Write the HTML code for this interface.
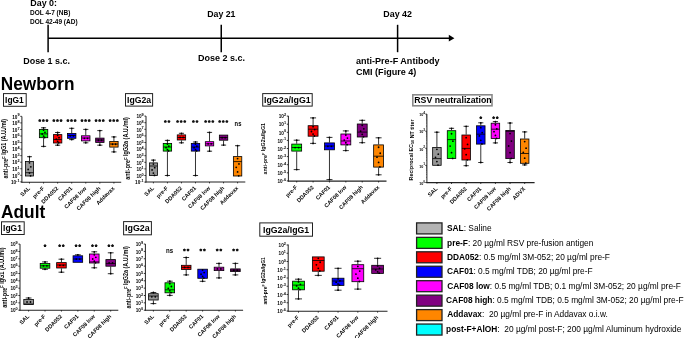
<!DOCTYPE html>
<html><head><meta charset="utf-8"><style>
html,body{margin:0;padding:0;background:#fff;width:685px;height:338px;overflow:hidden}
svg{display:block;will-change:transform;font-family:"Liberation Sans",sans-serif}
</style></head><body>
<svg width="685" height="338" viewBox="0 0 685 338">
<rect width="685" height="338" fill="#fff"/>
<line x1="48.00" y1="38.20" x2="450.00" y2="38.20" stroke="#000" stroke-width="1.60"/>
<polygon points="448.8,34.8 454.4,38.15 448.8,41.5" fill="#000"/>
<line x1="48.10" y1="24.80" x2="48.10" y2="52.20" stroke="#000" stroke-width="1.50"/>
<line x1="221.25" y1="24.80" x2="221.25" y2="52.20" stroke="#000" stroke-width="1.50"/>
<line x1="397.60" y1="24.80" x2="397.60" y2="52.20" stroke="#000" stroke-width="1.50"/>
<text x="30.30" y="6.40" font-size="9.20" font-weight="bold" textLength="26.70" lengthAdjust="spacingAndGlyphs" text-anchor="start" fill="#000">Day 0:</text>
<text x="30.00" y="14.80" font-size="6.50" font-weight="bold" textLength="40.30" lengthAdjust="spacingAndGlyphs" text-anchor="start" fill="#000">DOL 4-7 (NB)</text>
<text x="30.00" y="23.90" font-size="6.50" font-weight="bold" textLength="47.60" lengthAdjust="spacingAndGlyphs" text-anchor="start" fill="#000">DOL 42-49 (AD)</text>
<text x="23.20" y="64.20" font-size="9.00" font-weight="bold" textLength="46.80" lengthAdjust="spacingAndGlyphs" text-anchor="start" fill="#000">Dose 1 s.c.</text>
<text x="207.20" y="17.00" font-size="8.90" font-weight="bold" textLength="28.30" lengthAdjust="spacingAndGlyphs" text-anchor="start" fill="#000">Day 21</text>
<text x="198.00" y="61.20" font-size="9.00" font-weight="bold" textLength="47.00" lengthAdjust="spacingAndGlyphs" text-anchor="start" fill="#000">Dose 2 s.c.</text>
<text x="383.30" y="17.00" font-size="8.90" font-weight="bold" textLength="28.70" lengthAdjust="spacingAndGlyphs" text-anchor="start" fill="#000">Day 42</text>
<text x="356.00" y="64.30" font-size="9.00" font-weight="bold" textLength="83.50" lengthAdjust="spacingAndGlyphs" text-anchor="start" fill="#000">anti-Pre-F Antibody</text>
<text x="356.00" y="75.00" font-size="9.00" font-weight="bold" textLength="60.30" lengthAdjust="spacingAndGlyphs" text-anchor="start" fill="#000">CMI (Figure 4)</text>
<text x="0.80" y="89.90" font-size="18.00" font-weight="bold" textLength="73.70" lengthAdjust="spacingAndGlyphs" text-anchor="start" fill="#000">Newborn</text>
<text x="1.00" y="218.10" font-size="18.20" font-weight="bold" textLength="44.20" lengthAdjust="spacingAndGlyphs" text-anchor="start" fill="#000">Adult</text>
<rect x="3.50" y="93.60" width="22.70" height="12.70" fill="#fff" stroke="#222" stroke-width="1.00"/>
<text x="5.10" y="103.00" font-size="9.20" font-weight="bold" textLength="18.70" lengthAdjust="spacingAndGlyphs" text-anchor="start" fill="#000">IgG1</text>
<rect x="125.50" y="93.60" width="27.10" height="12.50" fill="#fff" stroke="#222" stroke-width="1.00"/>
<text x="127.00" y="103.00" font-size="9.20" font-weight="bold" textLength="24.10" lengthAdjust="spacingAndGlyphs" text-anchor="start" fill="#000">IgG2a</text>
<rect x="262.70" y="93.60" width="49.50" height="12.50" fill="#fff" stroke="#222" stroke-width="1.00"/>
<text x="264.00" y="103.30" font-size="9.20" font-weight="bold" textLength="46.70" lengthAdjust="spacingAndGlyphs" text-anchor="start" fill="#000">IgG2a/IgG1</text>
<rect x="412.80" y="94.80" width="79.20" height="11.00" fill="#fff" stroke="#8a8a8a" stroke-width="1.60"/>
<text x="414.30" y="102.80" font-size="9.60" font-weight="bold" textLength="77.30" lengthAdjust="spacingAndGlyphs" text-anchor="start" fill="#000">RSV neutralization</text>
<rect x="1.50" y="221.80" width="22.70" height="12.70" fill="#fff" stroke="#222" stroke-width="1.00"/>
<text x="3.10" y="231.20" font-size="9.20" font-weight="bold" textLength="18.80" lengthAdjust="spacingAndGlyphs" text-anchor="start" fill="#000">IgG1</text>
<rect x="123.60" y="221.60" width="27.80" height="13.20" fill="#fff" stroke="#222" stroke-width="1.00"/>
<text x="125.00" y="231.40" font-size="9.20" font-weight="bold" textLength="24.70" lengthAdjust="spacingAndGlyphs" text-anchor="start" fill="#000">IgG2a</text>
<rect x="259.80" y="222.90" width="52.70" height="13.30" fill="#fff" stroke="#222" stroke-width="1.00"/>
<text x="263.00" y="232.90" font-size="9.20" font-weight="bold" textLength="46.20" lengthAdjust="spacingAndGlyphs" text-anchor="start" fill="#000">IgG2a/IgG1</text>
<line x1="20.30" y1="181.85" x2="21.90" y2="181.85" stroke="#000" stroke-width="0.80"/>
<text x="19.50" y="181.90" font-size="3.82" font-weight="bold" text-anchor="end" fill="#000">-1</text>
<text x="16.21" y="184.05" font-size="5.30" font-weight="bold" text-anchor="end" textLength="5.20" lengthAdjust="spacingAndGlyphs" fill="#000">10</text>
<line x1="20.30" y1="175.30" x2="21.90" y2="175.30" stroke="#000" stroke-width="0.80"/>
<text x="19.50" y="175.35" font-size="3.82" font-weight="bold" text-anchor="end" fill="#000">0</text>
<text x="17.48" y="177.50" font-size="5.30" font-weight="bold" text-anchor="end" textLength="5.20" lengthAdjust="spacingAndGlyphs" fill="#000">10</text>
<line x1="20.30" y1="168.75" x2="21.90" y2="168.75" stroke="#000" stroke-width="0.80"/>
<text x="19.50" y="168.80" font-size="3.82" font-weight="bold" text-anchor="end" fill="#000">1</text>
<text x="17.48" y="170.95" font-size="5.30" font-weight="bold" text-anchor="end" textLength="5.20" lengthAdjust="spacingAndGlyphs" fill="#000">10</text>
<line x1="20.30" y1="162.20" x2="21.90" y2="162.20" stroke="#000" stroke-width="0.80"/>
<text x="19.50" y="162.25" font-size="3.82" font-weight="bold" text-anchor="end" fill="#000">2</text>
<text x="17.48" y="164.40" font-size="5.30" font-weight="bold" text-anchor="end" textLength="5.20" lengthAdjust="spacingAndGlyphs" fill="#000">10</text>
<line x1="20.30" y1="155.65" x2="21.90" y2="155.65" stroke="#000" stroke-width="0.80"/>
<text x="19.50" y="155.70" font-size="3.82" font-weight="bold" text-anchor="end" fill="#000">3</text>
<text x="17.48" y="157.85" font-size="5.30" font-weight="bold" text-anchor="end" textLength="5.20" lengthAdjust="spacingAndGlyphs" fill="#000">10</text>
<line x1="20.30" y1="149.10" x2="21.90" y2="149.10" stroke="#000" stroke-width="0.80"/>
<text x="19.50" y="149.15" font-size="3.82" font-weight="bold" text-anchor="end" fill="#000">4</text>
<text x="17.48" y="151.30" font-size="5.30" font-weight="bold" text-anchor="end" textLength="5.20" lengthAdjust="spacingAndGlyphs" fill="#000">10</text>
<line x1="20.30" y1="142.55" x2="21.90" y2="142.55" stroke="#000" stroke-width="0.80"/>
<text x="19.50" y="142.60" font-size="3.82" font-weight="bold" text-anchor="end" fill="#000">5</text>
<text x="17.48" y="144.75" font-size="5.30" font-weight="bold" text-anchor="end" textLength="5.20" lengthAdjust="spacingAndGlyphs" fill="#000">10</text>
<line x1="20.30" y1="136.00" x2="21.90" y2="136.00" stroke="#000" stroke-width="0.80"/>
<text x="19.50" y="136.05" font-size="3.82" font-weight="bold" text-anchor="end" fill="#000">6</text>
<text x="17.48" y="138.20" font-size="5.30" font-weight="bold" text-anchor="end" textLength="5.20" lengthAdjust="spacingAndGlyphs" fill="#000">10</text>
<line x1="20.30" y1="129.45" x2="21.90" y2="129.45" stroke="#000" stroke-width="0.80"/>
<text x="19.50" y="129.50" font-size="3.82" font-weight="bold" text-anchor="end" fill="#000">7</text>
<text x="17.48" y="131.65" font-size="5.30" font-weight="bold" text-anchor="end" textLength="5.20" lengthAdjust="spacingAndGlyphs" fill="#000">10</text>
<line x1="20.30" y1="122.90" x2="21.90" y2="122.90" stroke="#000" stroke-width="0.80"/>
<text x="19.50" y="122.95" font-size="3.82" font-weight="bold" text-anchor="end" fill="#000">8</text>
<text x="17.48" y="125.10" font-size="5.30" font-weight="bold" text-anchor="end" textLength="5.20" lengthAdjust="spacingAndGlyphs" fill="#000">10</text>
<line x1="20.30" y1="116.35" x2="21.90" y2="116.35" stroke="#000" stroke-width="0.80"/>
<text x="19.50" y="116.40" font-size="3.82" font-weight="bold" text-anchor="end" fill="#000">9</text>
<text x="17.48" y="118.55" font-size="5.30" font-weight="bold" text-anchor="end" textLength="5.20" lengthAdjust="spacingAndGlyphs" fill="#000">10</text>
<line x1="21.90" y1="116.50" x2="21.90" y2="182.70" stroke="#222" stroke-width="1.00"/>
<line x1="21.40" y1="182.20" x2="121.20" y2="182.20" stroke="#222" stroke-width="1.10"/>
<line x1="29.50" y1="182.20" x2="29.50" y2="183.60" stroke="#000" stroke-width="0.70"/>
<line x1="43.57" y1="182.20" x2="43.57" y2="183.60" stroke="#000" stroke-width="0.70"/>
<line x1="57.64" y1="182.20" x2="57.64" y2="183.60" stroke="#000" stroke-width="0.70"/>
<line x1="71.71" y1="182.20" x2="71.71" y2="183.60" stroke="#000" stroke-width="0.70"/>
<line x1="85.78" y1="182.20" x2="85.78" y2="183.60" stroke="#000" stroke-width="0.70"/>
<line x1="99.85" y1="182.20" x2="99.85" y2="183.60" stroke="#000" stroke-width="0.70"/>
<line x1="113.92" y1="182.20" x2="113.92" y2="183.60" stroke="#000" stroke-width="0.70"/>
<text transform="translate(30.50 188.80) rotate(-45)" x="0" y="0" font-size="5.60" font-weight="bold" text-anchor="end" fill="#000">SAL</text>
<text transform="translate(44.57 188.80) rotate(-45)" x="0" y="0" font-size="5.60" font-weight="bold" text-anchor="end" fill="#000">pre-F</text>
<text transform="translate(58.64 188.80) rotate(-45)" x="0" y="0" font-size="5.60" font-weight="bold" text-anchor="end" fill="#000">DDA052</text>
<text transform="translate(72.71 188.80) rotate(-45)" x="0" y="0" font-size="5.60" font-weight="bold" text-anchor="end" fill="#000">CAF01</text>
<text transform="translate(86.78 188.80) rotate(-45)" x="0" y="0" font-size="5.60" font-weight="bold" text-anchor="end" fill="#000">CAF08 low</text>
<text transform="translate(100.85 188.80) rotate(-45)" x="0" y="0" font-size="5.60" font-weight="bold" text-anchor="end" fill="#000">CAF08 high</text>
<text transform="translate(114.92 188.80) rotate(-45)" x="0" y="0" font-size="5.60" font-weight="bold" text-anchor="end" fill="#000">Addavax</text>
<text transform="translate(8.34 148.75) rotate(-90)" x="0" y="0" font-size="6.50" font-weight="bold" text-anchor="middle" textLength="59.50" lengthAdjust="spacingAndGlyphs" fill="#000"><tspan>anti-pre</tspan><tspan dy="-2.27" font-size="4.55">F</tspan><tspan dy="2.27"></tspan><tspan> IgG1 (A.U./ml)</tspan></text>
<line x1="29.50" y1="156.70" x2="29.50" y2="161.00" stroke="#000" stroke-width="0.80"/>
<line x1="27.04" y1="156.70" x2="31.96" y2="156.70" stroke="#000" stroke-width="0.80"/>
<rect x="25.50" y="161.40" width="8.00" height="14.60" fill="#969696" stroke="#000" stroke-width="0.80"/>
<line x1="25.50" y1="172.70" x2="33.50" y2="172.70" stroke="#000" stroke-width="0.80"/>
<circle cx="29.50" cy="162.85" r="0.9" fill="#000"/>
<circle cx="30.82" cy="166.85" r="0.9" fill="#000"/>
<circle cx="28.18" cy="169.47" r="0.9" fill="#000"/>
<circle cx="29.50" cy="173.01" r="0.9" fill="#000"/>
<circle cx="30.56" cy="175.80" r="0.9" fill="#000"/>
<circle cx="29.50" cy="156.70" r="0.9" fill="#000"/>
<line x1="43.57" y1="127.80" x2="43.57" y2="129.00" stroke="#000" stroke-width="0.80"/>
<line x1="40.99" y1="127.80" x2="46.15" y2="127.80" stroke="#000" stroke-width="0.80"/>
<line x1="43.57" y1="138.10" x2="43.57" y2="146.40" stroke="#000" stroke-width="0.80"/>
<line x1="40.99" y1="146.40" x2="46.15" y2="146.40" stroke="#000" stroke-width="0.80"/>
<rect x="39.37" y="129.40" width="8.40" height="8.30" fill="#00ff00" stroke="#000" stroke-width="0.80"/>
<line x1="39.37" y1="133.90" x2="47.77" y2="133.90" stroke="#000" stroke-width="0.80"/>
<circle cx="43.57" cy="130.09" r="0.9" fill="#000"/>
<circle cx="44.95" cy="132.46" r="0.9" fill="#000"/>
<circle cx="42.19" cy="134.00" r="0.9" fill="#000"/>
<circle cx="43.57" cy="136.10" r="0.9" fill="#000"/>
<circle cx="44.67" cy="137.50" r="0.9" fill="#000"/>
<circle cx="43.57" cy="127.80" r="0.9" fill="#000"/>
<circle cx="43.57" cy="146.40" r="0.9" fill="#000"/>
<line x1="57.64" y1="132.50" x2="57.64" y2="134.20" stroke="#000" stroke-width="0.80"/>
<line x1="55.06" y1="132.50" x2="60.22" y2="132.50" stroke="#000" stroke-width="0.80"/>
<line x1="57.64" y1="143.40" x2="57.64" y2="145.20" stroke="#000" stroke-width="0.80"/>
<line x1="55.06" y1="145.20" x2="60.22" y2="145.20" stroke="#000" stroke-width="0.80"/>
<rect x="53.44" y="134.60" width="8.40" height="8.40" fill="#ff0000" stroke="#000" stroke-width="0.80"/>
<line x1="53.44" y1="139.50" x2="61.84" y2="139.50" stroke="#000" stroke-width="0.80"/>
<circle cx="57.64" cy="135.30" r="0.9" fill="#000"/>
<circle cx="59.02" cy="137.70" r="0.9" fill="#000"/>
<circle cx="56.26" cy="139.26" r="0.9" fill="#000"/>
<circle cx="57.64" cy="141.38" r="0.9" fill="#000"/>
<circle cx="58.74" cy="142.80" r="0.9" fill="#000"/>
<circle cx="57.64" cy="132.50" r="0.9" fill="#000"/>
<circle cx="57.64" cy="145.20" r="0.9" fill="#000"/>
<line x1="71.71" y1="128.30" x2="71.71" y2="133.00" stroke="#000" stroke-width="0.80"/>
<line x1="69.13" y1="128.30" x2="74.29" y2="128.30" stroke="#000" stroke-width="0.80"/>
<line x1="71.71" y1="138.70" x2="71.71" y2="139.60" stroke="#000" stroke-width="0.80"/>
<line x1="69.13" y1="139.60" x2="74.29" y2="139.60" stroke="#000" stroke-width="0.80"/>
<rect x="67.51" y="133.40" width="8.40" height="4.90" fill="#0000ff" stroke="#000" stroke-width="0.80"/>
<line x1="67.51" y1="135.50" x2="75.91" y2="135.50" stroke="#000" stroke-width="0.80"/>
<circle cx="70.33" cy="135.85" r="0.9" fill="#000"/>
<circle cx="73.37" cy="135.85" r="0.9" fill="#000"/>
<circle cx="71.71" cy="128.30" r="0.9" fill="#000"/>
<circle cx="71.71" cy="139.60" r="0.9" fill="#000"/>
<line x1="85.78" y1="129.40" x2="85.78" y2="135.40" stroke="#000" stroke-width="0.80"/>
<line x1="83.20" y1="129.40" x2="88.36" y2="129.40" stroke="#000" stroke-width="0.80"/>
<line x1="85.78" y1="141.30" x2="85.78" y2="142.80" stroke="#000" stroke-width="0.80"/>
<line x1="83.20" y1="142.80" x2="88.36" y2="142.80" stroke="#000" stroke-width="0.80"/>
<rect x="81.58" y="135.80" width="8.40" height="5.10" fill="#ff00ff" stroke="#000" stroke-width="0.80"/>
<line x1="81.58" y1="138.00" x2="89.98" y2="138.00" stroke="#000" stroke-width="0.80"/>
<circle cx="84.40" cy="138.35" r="0.9" fill="#000"/>
<circle cx="87.44" cy="138.35" r="0.9" fill="#000"/>
<circle cx="85.78" cy="129.40" r="0.9" fill="#000"/>
<circle cx="85.78" cy="142.80" r="0.9" fill="#000"/>
<line x1="99.85" y1="130.60" x2="99.85" y2="137.70" stroke="#000" stroke-width="0.80"/>
<line x1="97.27" y1="130.60" x2="102.43" y2="130.60" stroke="#000" stroke-width="0.80"/>
<line x1="99.85" y1="142.80" x2="99.85" y2="145.20" stroke="#000" stroke-width="0.80"/>
<line x1="97.27" y1="145.20" x2="102.43" y2="145.20" stroke="#000" stroke-width="0.80"/>
<rect x="95.65" y="138.10" width="8.40" height="4.30" fill="#800080" stroke="#000" stroke-width="0.80"/>
<line x1="95.65" y1="140.00" x2="104.05" y2="140.00" stroke="#000" stroke-width="0.80"/>
<circle cx="98.47" cy="140.25" r="0.9" fill="#000"/>
<circle cx="101.51" cy="140.25" r="0.9" fill="#000"/>
<circle cx="99.85" cy="130.60" r="0.9" fill="#000"/>
<circle cx="99.85" cy="145.20" r="0.9" fill="#000"/>
<line x1="113.92" y1="136.90" x2="113.92" y2="141.00" stroke="#000" stroke-width="0.80"/>
<line x1="111.34" y1="136.90" x2="116.50" y2="136.90" stroke="#000" stroke-width="0.80"/>
<line x1="113.92" y1="147.50" x2="113.92" y2="151.90" stroke="#000" stroke-width="0.80"/>
<line x1="111.34" y1="151.90" x2="116.50" y2="151.90" stroke="#000" stroke-width="0.80"/>
<rect x="109.72" y="141.40" width="8.40" height="5.70" fill="#ff8600" stroke="#000" stroke-width="0.80"/>
<line x1="109.72" y1="144.00" x2="118.12" y2="144.00" stroke="#000" stroke-width="0.80"/>
<circle cx="112.54" cy="144.25" r="0.9" fill="#000"/>
<circle cx="115.58" cy="144.25" r="0.9" fill="#000"/>
<circle cx="113.92" cy="136.90" r="0.9" fill="#000"/>
<circle cx="113.92" cy="151.90" r="0.9" fill="#000"/>
<polygon points="39.77,118.98 40.50,119.60 41.31,120.10 40.95,120.98 40.72,121.91 39.77,121.84 38.82,121.91 38.59,120.98 38.23,120.10 39.04,119.60" fill="#111"/>
<polygon points="43.37,118.98 44.10,119.60 44.91,120.10 44.55,120.98 44.32,121.91 43.37,121.84 42.42,121.91 42.19,120.98 41.83,120.10 42.64,119.60" fill="#111"/>
<polygon points="46.97,118.98 47.70,119.60 48.51,120.10 48.15,120.98 47.92,121.91 46.97,121.84 46.02,121.91 45.79,120.98 45.43,120.10 46.24,119.60" fill="#111"/>
<polygon points="53.84,118.98 54.57,119.60 55.38,120.10 55.02,120.98 54.79,121.91 53.84,121.84 52.89,121.91 52.66,120.98 52.30,120.10 53.11,119.60" fill="#111"/>
<polygon points="57.44,118.98 58.17,119.60 58.98,120.10 58.62,120.98 58.39,121.91 57.44,121.84 56.49,121.91 56.26,120.98 55.90,120.10 56.71,119.60" fill="#111"/>
<polygon points="61.04,118.98 61.77,119.60 62.58,120.10 62.22,120.98 61.99,121.91 61.04,121.84 60.09,121.91 59.86,120.98 59.50,120.10 60.31,119.60" fill="#111"/>
<polygon points="67.91,118.98 68.64,119.60 69.45,120.10 69.09,120.98 68.86,121.91 67.91,121.84 66.96,121.91 66.73,120.98 66.37,120.10 67.18,119.60" fill="#111"/>
<polygon points="71.51,118.98 72.24,119.60 73.05,120.10 72.69,120.98 72.46,121.91 71.51,121.84 70.56,121.91 70.33,120.98 69.97,120.10 70.78,119.60" fill="#111"/>
<polygon points="75.11,118.98 75.84,119.60 76.65,120.10 76.29,120.98 76.06,121.91 75.11,121.84 74.16,121.91 73.93,120.98 73.57,120.10 74.38,119.60" fill="#111"/>
<polygon points="81.98,118.98 82.71,119.60 83.52,120.10 83.16,120.98 82.93,121.91 81.98,121.84 81.03,121.91 80.80,120.98 80.44,120.10 81.25,119.60" fill="#111"/>
<polygon points="85.58,118.98 86.31,119.60 87.12,120.10 86.76,120.98 86.53,121.91 85.58,121.84 84.63,121.91 84.40,120.98 84.04,120.10 84.85,119.60" fill="#111"/>
<polygon points="89.18,118.98 89.91,119.60 90.72,120.10 90.36,120.98 90.13,121.91 89.18,121.84 88.23,121.91 88.00,120.98 87.64,120.10 88.45,119.60" fill="#111"/>
<polygon points="96.05,118.98 96.78,119.60 97.59,120.10 97.23,120.98 97.00,121.91 96.05,121.84 95.10,121.91 94.87,120.98 94.51,120.10 95.32,119.60" fill="#111"/>
<polygon points="99.65,118.98 100.38,119.60 101.19,120.10 100.83,120.98 100.60,121.91 99.65,121.84 98.70,121.91 98.47,120.98 98.11,120.10 98.92,119.60" fill="#111"/>
<polygon points="103.25,118.98 103.98,119.60 104.79,120.10 104.43,120.98 104.20,121.91 103.25,121.84 102.30,121.91 102.07,120.98 101.71,120.10 102.52,119.60" fill="#111"/>
<polygon points="110.12,118.98 110.85,119.60 111.66,120.10 111.30,120.98 111.07,121.91 110.12,121.84 109.17,121.91 108.94,120.98 108.58,120.10 109.39,119.60" fill="#111"/>
<polygon points="113.72,118.98 114.45,119.60 115.26,120.10 114.90,120.98 114.67,121.91 113.72,121.84 112.77,121.91 112.54,120.98 112.18,120.10 112.99,119.60" fill="#111"/>
<polygon points="117.32,118.98 118.05,119.60 118.86,120.10 118.50,120.98 118.27,121.91 117.32,121.84 116.37,121.91 116.14,120.98 115.78,120.10 116.59,119.60" fill="#111"/>
<line x1="144.40" y1="182.10" x2="146.00" y2="182.10" stroke="#000" stroke-width="0.80"/>
<text x="143.60" y="182.15" font-size="3.82" font-weight="bold" text-anchor="end" fill="#000">-1</text>
<text x="140.31" y="184.30" font-size="5.30" font-weight="bold" text-anchor="end" textLength="5.20" lengthAdjust="spacingAndGlyphs" fill="#000">10</text>
<line x1="144.40" y1="175.50" x2="146.00" y2="175.50" stroke="#000" stroke-width="0.80"/>
<text x="143.60" y="175.55" font-size="3.82" font-weight="bold" text-anchor="end" fill="#000">0</text>
<text x="141.58" y="177.70" font-size="5.30" font-weight="bold" text-anchor="end" textLength="5.20" lengthAdjust="spacingAndGlyphs" fill="#000">10</text>
<line x1="144.40" y1="168.90" x2="146.00" y2="168.90" stroke="#000" stroke-width="0.80"/>
<text x="143.60" y="168.95" font-size="3.82" font-weight="bold" text-anchor="end" fill="#000">1</text>
<text x="141.58" y="171.10" font-size="5.30" font-weight="bold" text-anchor="end" textLength="5.20" lengthAdjust="spacingAndGlyphs" fill="#000">10</text>
<line x1="144.40" y1="162.30" x2="146.00" y2="162.30" stroke="#000" stroke-width="0.80"/>
<text x="143.60" y="162.35" font-size="3.82" font-weight="bold" text-anchor="end" fill="#000">2</text>
<text x="141.58" y="164.50" font-size="5.30" font-weight="bold" text-anchor="end" textLength="5.20" lengthAdjust="spacingAndGlyphs" fill="#000">10</text>
<line x1="144.40" y1="155.70" x2="146.00" y2="155.70" stroke="#000" stroke-width="0.80"/>
<text x="143.60" y="155.75" font-size="3.82" font-weight="bold" text-anchor="end" fill="#000">3</text>
<text x="141.58" y="157.90" font-size="5.30" font-weight="bold" text-anchor="end" textLength="5.20" lengthAdjust="spacingAndGlyphs" fill="#000">10</text>
<line x1="144.40" y1="149.10" x2="146.00" y2="149.10" stroke="#000" stroke-width="0.80"/>
<text x="143.60" y="149.15" font-size="3.82" font-weight="bold" text-anchor="end" fill="#000">4</text>
<text x="141.58" y="151.30" font-size="5.30" font-weight="bold" text-anchor="end" textLength="5.20" lengthAdjust="spacingAndGlyphs" fill="#000">10</text>
<line x1="144.40" y1="142.50" x2="146.00" y2="142.50" stroke="#000" stroke-width="0.80"/>
<text x="143.60" y="142.55" font-size="3.82" font-weight="bold" text-anchor="end" fill="#000">5</text>
<text x="141.58" y="144.70" font-size="5.30" font-weight="bold" text-anchor="end" textLength="5.20" lengthAdjust="spacingAndGlyphs" fill="#000">10</text>
<line x1="144.40" y1="135.90" x2="146.00" y2="135.90" stroke="#000" stroke-width="0.80"/>
<text x="143.60" y="135.95" font-size="3.82" font-weight="bold" text-anchor="end" fill="#000">6</text>
<text x="141.58" y="138.10" font-size="5.30" font-weight="bold" text-anchor="end" textLength="5.20" lengthAdjust="spacingAndGlyphs" fill="#000">10</text>
<line x1="144.40" y1="129.30" x2="146.00" y2="129.30" stroke="#000" stroke-width="0.80"/>
<text x="143.60" y="129.35" font-size="3.82" font-weight="bold" text-anchor="end" fill="#000">7</text>
<text x="141.58" y="131.50" font-size="5.30" font-weight="bold" text-anchor="end" textLength="5.20" lengthAdjust="spacingAndGlyphs" fill="#000">10</text>
<line x1="144.40" y1="122.70" x2="146.00" y2="122.70" stroke="#000" stroke-width="0.80"/>
<text x="143.60" y="122.75" font-size="3.82" font-weight="bold" text-anchor="end" fill="#000">8</text>
<text x="141.58" y="124.90" font-size="5.30" font-weight="bold" text-anchor="end" textLength="5.20" lengthAdjust="spacingAndGlyphs" fill="#000">10</text>
<line x1="144.40" y1="116.10" x2="146.00" y2="116.10" stroke="#000" stroke-width="0.80"/>
<text x="143.60" y="116.15" font-size="3.82" font-weight="bold" text-anchor="end" fill="#000">9</text>
<text x="141.58" y="118.30" font-size="5.30" font-weight="bold" text-anchor="end" textLength="5.20" lengthAdjust="spacingAndGlyphs" fill="#000">10</text>
<line x1="146.00" y1="116.10" x2="146.00" y2="182.50" stroke="#222" stroke-width="1.00"/>
<line x1="145.50" y1="182.00" x2="245.30" y2="182.00" stroke="#222" stroke-width="1.10"/>
<line x1="153.40" y1="182.00" x2="153.40" y2="183.40" stroke="#000" stroke-width="0.70"/>
<line x1="167.43" y1="182.00" x2="167.43" y2="183.40" stroke="#000" stroke-width="0.70"/>
<line x1="181.46" y1="182.00" x2="181.46" y2="183.40" stroke="#000" stroke-width="0.70"/>
<line x1="195.49" y1="182.00" x2="195.49" y2="183.40" stroke="#000" stroke-width="0.70"/>
<line x1="209.52" y1="182.00" x2="209.52" y2="183.40" stroke="#000" stroke-width="0.70"/>
<line x1="223.55" y1="182.00" x2="223.55" y2="183.40" stroke="#000" stroke-width="0.70"/>
<line x1="237.58" y1="182.00" x2="237.58" y2="183.40" stroke="#000" stroke-width="0.70"/>
<text transform="translate(154.40 188.60) rotate(-45)" x="0" y="0" font-size="5.60" font-weight="bold" text-anchor="end" fill="#000">SAL</text>
<text transform="translate(168.43 188.60) rotate(-45)" x="0" y="0" font-size="5.60" font-weight="bold" text-anchor="end" fill="#000">pre-F</text>
<text transform="translate(182.46 188.60) rotate(-45)" x="0" y="0" font-size="5.60" font-weight="bold" text-anchor="end" fill="#000">DDA052</text>
<text transform="translate(196.49 188.60) rotate(-45)" x="0" y="0" font-size="5.60" font-weight="bold" text-anchor="end" fill="#000">CAF01</text>
<text transform="translate(210.52 188.60) rotate(-45)" x="0" y="0" font-size="5.60" font-weight="bold" text-anchor="end" fill="#000">CAF08 low</text>
<text transform="translate(224.55 188.60) rotate(-45)" x="0" y="0" font-size="5.60" font-weight="bold" text-anchor="end" fill="#000">CAF08 high</text>
<text transform="translate(238.58 188.60) rotate(-45)" x="0" y="0" font-size="5.60" font-weight="bold" text-anchor="end" fill="#000">Addavax</text>
<text transform="translate(130.34 148.45) rotate(-90)" x="0" y="0" font-size="6.50" font-weight="bold" text-anchor="middle" textLength="62.70" lengthAdjust="spacingAndGlyphs" fill="#000"><tspan>anti-pre</tspan><tspan dy="-2.27" font-size="4.55">F</tspan><tspan dy="2.27"></tspan><tspan> IgG2a (A.U./ml)</tspan></text>
<line x1="153.40" y1="160.10" x2="153.40" y2="162.50" stroke="#000" stroke-width="0.80"/>
<line x1="150.94" y1="160.10" x2="155.86" y2="160.10" stroke="#000" stroke-width="0.80"/>
<rect x="149.40" y="162.90" width="8.00" height="12.70" fill="#969696" stroke="#000" stroke-width="0.80"/>
<line x1="149.40" y1="166.00" x2="157.40" y2="166.00" stroke="#000" stroke-width="0.80"/>
<circle cx="153.40" cy="164.12" r="0.9" fill="#000"/>
<circle cx="154.72" cy="167.63" r="0.9" fill="#000"/>
<circle cx="152.08" cy="169.93" r="0.9" fill="#000"/>
<circle cx="153.40" cy="173.03" r="0.9" fill="#000"/>
<circle cx="154.46" cy="175.40" r="0.9" fill="#000"/>
<circle cx="153.40" cy="160.10" r="0.9" fill="#000"/>
<line x1="167.43" y1="140.40" x2="167.43" y2="143.00" stroke="#000" stroke-width="0.80"/>
<line x1="164.85" y1="140.40" x2="170.01" y2="140.40" stroke="#000" stroke-width="0.80"/>
<line x1="167.43" y1="151.50" x2="167.43" y2="175.50" stroke="#000" stroke-width="0.80"/>
<line x1="164.85" y1="175.50" x2="170.01" y2="175.50" stroke="#000" stroke-width="0.80"/>
<rect x="163.23" y="143.40" width="8.40" height="7.70" fill="#00ff00" stroke="#000" stroke-width="0.80"/>
<line x1="163.23" y1="147.00" x2="171.63" y2="147.00" stroke="#000" stroke-width="0.80"/>
<circle cx="167.43" cy="144.02" r="0.9" fill="#000"/>
<circle cx="168.81" cy="146.23" r="0.9" fill="#000"/>
<circle cx="166.05" cy="147.68" r="0.9" fill="#000"/>
<circle cx="167.43" cy="149.63" r="0.9" fill="#000"/>
<circle cx="168.53" cy="150.90" r="0.9" fill="#000"/>
<circle cx="167.43" cy="140.40" r="0.9" fill="#000"/>
<circle cx="167.43" cy="175.50" r="0.9" fill="#000"/>
<line x1="181.46" y1="133.30" x2="181.46" y2="134.50" stroke="#000" stroke-width="0.80"/>
<line x1="178.88" y1="133.30" x2="184.04" y2="133.30" stroke="#000" stroke-width="0.80"/>
<line x1="181.46" y1="140.40" x2="181.46" y2="142.80" stroke="#000" stroke-width="0.80"/>
<line x1="178.88" y1="142.80" x2="184.04" y2="142.80" stroke="#000" stroke-width="0.80"/>
<rect x="177.26" y="134.90" width="8.40" height="5.10" fill="#ff0000" stroke="#000" stroke-width="0.80"/>
<line x1="177.26" y1="137.50" x2="185.66" y2="137.50" stroke="#000" stroke-width="0.80"/>
<circle cx="180.08" cy="137.45" r="0.9" fill="#000"/>
<circle cx="183.12" cy="137.45" r="0.9" fill="#000"/>
<circle cx="181.46" cy="133.30" r="0.9" fill="#000"/>
<circle cx="181.46" cy="142.80" r="0.9" fill="#000"/>
<line x1="195.49" y1="142.00" x2="195.49" y2="143.00" stroke="#000" stroke-width="0.80"/>
<line x1="192.91" y1="142.00" x2="198.07" y2="142.00" stroke="#000" stroke-width="0.80"/>
<line x1="195.49" y1="151.50" x2="195.49" y2="175.50" stroke="#000" stroke-width="0.80"/>
<line x1="192.91" y1="175.50" x2="198.07" y2="175.50" stroke="#000" stroke-width="0.80"/>
<rect x="191.29" y="143.40" width="8.40" height="7.70" fill="#0000ff" stroke="#000" stroke-width="0.80"/>
<line x1="191.29" y1="147.00" x2="199.69" y2="147.00" stroke="#000" stroke-width="0.80"/>
<circle cx="195.49" cy="144.02" r="0.9" fill="#000"/>
<circle cx="196.87" cy="146.23" r="0.9" fill="#000"/>
<circle cx="194.11" cy="147.68" r="0.9" fill="#000"/>
<circle cx="195.49" cy="149.63" r="0.9" fill="#000"/>
<circle cx="196.59" cy="150.90" r="0.9" fill="#000"/>
<circle cx="195.49" cy="142.00" r="0.9" fill="#000"/>
<circle cx="195.49" cy="175.50" r="0.9" fill="#000"/>
<line x1="209.52" y1="132.40" x2="209.52" y2="141.30" stroke="#000" stroke-width="0.80"/>
<line x1="206.94" y1="132.40" x2="212.10" y2="132.40" stroke="#000" stroke-width="0.80"/>
<line x1="209.52" y1="146.30" x2="209.52" y2="151.20" stroke="#000" stroke-width="0.80"/>
<line x1="206.94" y1="151.20" x2="212.10" y2="151.20" stroke="#000" stroke-width="0.80"/>
<rect x="205.32" y="141.70" width="8.40" height="4.20" fill="#ff00ff" stroke="#000" stroke-width="0.80"/>
<line x1="205.32" y1="143.80" x2="213.72" y2="143.80" stroke="#000" stroke-width="0.80"/>
<circle cx="208.14" cy="143.80" r="0.9" fill="#000"/>
<circle cx="211.18" cy="143.80" r="0.9" fill="#000"/>
<circle cx="209.52" cy="132.40" r="0.9" fill="#000"/>
<circle cx="209.52" cy="151.20" r="0.9" fill="#000"/>
<line x1="223.55" y1="140.60" x2="223.55" y2="145.10" stroke="#000" stroke-width="0.80"/>
<line x1="220.97" y1="145.10" x2="226.13" y2="145.10" stroke="#000" stroke-width="0.80"/>
<rect x="219.35" y="135.10" width="8.40" height="5.10" fill="#800080" stroke="#000" stroke-width="0.80"/>
<line x1="219.35" y1="137.50" x2="227.75" y2="137.50" stroke="#000" stroke-width="0.80"/>
<circle cx="222.17" cy="137.65" r="0.9" fill="#000"/>
<circle cx="225.21" cy="137.65" r="0.9" fill="#000"/>
<circle cx="223.55" cy="145.10" r="0.9" fill="#000"/>
<line x1="237.58" y1="145.70" x2="237.58" y2="156.20" stroke="#000" stroke-width="0.80"/>
<line x1="235.00" y1="145.70" x2="240.16" y2="145.70" stroke="#000" stroke-width="0.80"/>
<rect x="233.38" y="156.60" width="8.40" height="19.40" fill="#ff8600" stroke="#000" stroke-width="0.80"/>
<line x1="233.38" y1="161.60" x2="241.78" y2="161.60" stroke="#000" stroke-width="0.80"/>
<circle cx="237.58" cy="158.62" r="0.9" fill="#000"/>
<circle cx="238.96" cy="163.88" r="0.9" fill="#000"/>
<circle cx="236.20" cy="167.31" r="0.9" fill="#000"/>
<circle cx="237.58" cy="171.96" r="0.9" fill="#000"/>
<circle cx="238.68" cy="175.80" r="0.9" fill="#000"/>
<circle cx="237.58" cy="145.70" r="0.9" fill="#000"/>
<polygon points="165.33,119.88 166.06,120.50 166.87,121.00 166.51,121.88 166.28,122.81 165.33,122.74 164.38,122.81 164.15,121.88 163.79,121.00 164.60,120.50" fill="#111"/>
<polygon points="168.93,119.88 169.66,120.50 170.47,121.00 170.11,121.88 169.88,122.81 168.93,122.74 167.98,122.81 167.75,121.88 167.39,121.00 168.20,120.50" fill="#111"/>
<polygon points="177.56,119.88 178.29,120.50 179.10,121.00 178.74,121.88 178.51,122.81 177.56,122.74 176.61,122.81 176.38,121.88 176.02,121.00 176.83,120.50" fill="#111"/>
<polygon points="181.16,119.88 181.89,120.50 182.70,121.00 182.34,121.88 182.11,122.81 181.16,122.74 180.21,122.81 179.98,121.88 179.62,121.00 180.43,120.50" fill="#111"/>
<polygon points="184.76,119.88 185.49,120.50 186.30,121.00 185.94,121.88 185.71,122.81 184.76,122.74 183.81,122.81 183.58,121.88 183.22,121.00 184.03,120.50" fill="#111"/>
<polygon points="193.39,119.88 194.12,120.50 194.93,121.00 194.57,121.88 194.34,122.81 193.39,122.74 192.44,122.81 192.21,121.88 191.85,121.00 192.66,120.50" fill="#111"/>
<polygon points="196.99,119.88 197.72,120.50 198.53,121.00 198.17,121.88 197.94,122.81 196.99,122.74 196.04,122.81 195.81,121.88 195.45,121.00 196.26,120.50" fill="#111"/>
<polygon points="205.62,119.88 206.35,120.50 207.16,121.00 206.80,121.88 206.57,122.81 205.62,122.74 204.67,122.81 204.44,121.88 204.08,121.00 204.89,120.50" fill="#111"/>
<polygon points="209.22,119.88 209.95,120.50 210.76,121.00 210.40,121.88 210.17,122.81 209.22,122.74 208.27,122.81 208.04,121.88 207.68,121.00 208.49,120.50" fill="#111"/>
<polygon points="212.82,119.88 213.55,120.50 214.36,121.00 214.00,121.88 213.77,122.81 212.82,122.74 211.87,122.81 211.64,121.88 211.28,121.00 212.09,120.50" fill="#111"/>
<polygon points="219.65,119.88 220.38,120.50 221.19,121.00 220.83,121.88 220.60,122.81 219.65,122.74 218.70,122.81 218.47,121.88 218.11,121.00 218.92,120.50" fill="#111"/>
<polygon points="223.25,119.88 223.98,120.50 224.79,121.00 224.43,121.88 224.20,122.81 223.25,122.74 222.30,122.81 222.07,121.88 221.71,121.00 222.52,120.50" fill="#111"/>
<polygon points="226.85,119.88 227.58,120.50 228.39,121.00 228.03,121.88 227.80,122.81 226.85,122.74 225.90,122.81 225.67,121.88 225.31,121.00 226.12,120.50" fill="#111"/>
<text x="234.60" y="125.60" font-size="6.60" font-weight="bold" textLength="6.80" lengthAdjust="spacingAndGlyphs" text-anchor="start" fill="#000">ns</text>
<line x1="286.80" y1="180.90" x2="288.40" y2="180.90" stroke="#000" stroke-width="0.80"/>
<text x="286.00" y="180.95" font-size="3.82" font-weight="bold" text-anchor="end" fill="#000">-6</text>
<text x="282.71" y="183.10" font-size="5.30" font-weight="bold" text-anchor="end" textLength="5.20" lengthAdjust="spacingAndGlyphs" fill="#000">10</text>
<line x1="286.80" y1="172.80" x2="288.40" y2="172.80" stroke="#000" stroke-width="0.80"/>
<text x="286.00" y="172.85" font-size="3.82" font-weight="bold" text-anchor="end" fill="#000">-5</text>
<text x="282.71" y="175.00" font-size="5.30" font-weight="bold" text-anchor="end" textLength="5.20" lengthAdjust="spacingAndGlyphs" fill="#000">10</text>
<line x1="286.80" y1="164.70" x2="288.40" y2="164.70" stroke="#000" stroke-width="0.80"/>
<text x="286.00" y="164.75" font-size="3.82" font-weight="bold" text-anchor="end" fill="#000">-4</text>
<text x="282.71" y="166.90" font-size="5.30" font-weight="bold" text-anchor="end" textLength="5.20" lengthAdjust="spacingAndGlyphs" fill="#000">10</text>
<line x1="286.80" y1="156.60" x2="288.40" y2="156.60" stroke="#000" stroke-width="0.80"/>
<text x="286.00" y="156.65" font-size="3.82" font-weight="bold" text-anchor="end" fill="#000">-3</text>
<text x="282.71" y="158.80" font-size="5.30" font-weight="bold" text-anchor="end" textLength="5.20" lengthAdjust="spacingAndGlyphs" fill="#000">10</text>
<line x1="286.80" y1="148.50" x2="288.40" y2="148.50" stroke="#000" stroke-width="0.80"/>
<text x="286.00" y="148.55" font-size="3.82" font-weight="bold" text-anchor="end" fill="#000">-2</text>
<text x="282.71" y="150.70" font-size="5.30" font-weight="bold" text-anchor="end" textLength="5.20" lengthAdjust="spacingAndGlyphs" fill="#000">10</text>
<line x1="286.80" y1="140.40" x2="288.40" y2="140.40" stroke="#000" stroke-width="0.80"/>
<text x="286.00" y="140.45" font-size="3.82" font-weight="bold" text-anchor="end" fill="#000">-1</text>
<text x="282.71" y="142.60" font-size="5.30" font-weight="bold" text-anchor="end" textLength="5.20" lengthAdjust="spacingAndGlyphs" fill="#000">10</text>
<line x1="286.80" y1="132.30" x2="288.40" y2="132.30" stroke="#000" stroke-width="0.80"/>
<text x="286.00" y="132.35" font-size="3.82" font-weight="bold" text-anchor="end" fill="#000">0</text>
<text x="283.98" y="134.50" font-size="5.30" font-weight="bold" text-anchor="end" textLength="5.20" lengthAdjust="spacingAndGlyphs" fill="#000">10</text>
<line x1="286.80" y1="124.20" x2="288.40" y2="124.20" stroke="#000" stroke-width="0.80"/>
<text x="286.00" y="124.25" font-size="3.82" font-weight="bold" text-anchor="end" fill="#000">1</text>
<text x="283.98" y="126.40" font-size="5.30" font-weight="bold" text-anchor="end" textLength="5.20" lengthAdjust="spacingAndGlyphs" fill="#000">10</text>
<line x1="286.80" y1="116.10" x2="288.40" y2="116.10" stroke="#000" stroke-width="0.80"/>
<text x="286.00" y="116.15" font-size="3.82" font-weight="bold" text-anchor="end" fill="#000">2</text>
<text x="283.98" y="118.30" font-size="5.30" font-weight="bold" text-anchor="end" textLength="5.20" lengthAdjust="spacingAndGlyphs" fill="#000">10</text>
<line x1="288.40" y1="115.90" x2="288.40" y2="181.60" stroke="#222" stroke-width="1.00"/>
<line x1="287.90" y1="181.10" x2="386.50" y2="181.10" stroke="#222" stroke-width="1.10"/>
<line x1="296.70" y1="181.10" x2="296.70" y2="182.50" stroke="#000" stroke-width="0.70"/>
<line x1="313.08" y1="181.10" x2="313.08" y2="182.50" stroke="#000" stroke-width="0.70"/>
<line x1="329.46" y1="181.10" x2="329.46" y2="182.50" stroke="#000" stroke-width="0.70"/>
<line x1="345.84" y1="181.10" x2="345.84" y2="182.50" stroke="#000" stroke-width="0.70"/>
<line x1="362.22" y1="181.10" x2="362.22" y2="182.50" stroke="#000" stroke-width="0.70"/>
<line x1="378.60" y1="181.10" x2="378.60" y2="182.50" stroke="#000" stroke-width="0.70"/>
<text transform="translate(297.70 187.70) rotate(-45)" x="0" y="0" font-size="5.60" font-weight="bold" text-anchor="end" fill="#000">pre-F</text>
<text transform="translate(314.08 187.70) rotate(-45)" x="0" y="0" font-size="5.60" font-weight="bold" text-anchor="end" fill="#000">DDA052</text>
<text transform="translate(330.46 187.70) rotate(-45)" x="0" y="0" font-size="5.60" font-weight="bold" text-anchor="end" fill="#000">CAF01</text>
<text transform="translate(346.84 187.70) rotate(-45)" x="0" y="0" font-size="5.60" font-weight="bold" text-anchor="end" fill="#000">CAF08 low</text>
<text transform="translate(363.22 187.70) rotate(-45)" x="0" y="0" font-size="5.60" font-weight="bold" text-anchor="end" fill="#000">CAF08 high</text>
<text transform="translate(379.60 187.70) rotate(-45)" x="0" y="0" font-size="5.60" font-weight="bold" text-anchor="end" fill="#000">Addavax</text>
<text transform="translate(266.66 148.80) rotate(-90)" x="0" y="0" font-size="6.00" font-weight="bold" text-anchor="middle" textLength="51.60" lengthAdjust="spacingAndGlyphs" fill="#000"><tspan>anti-pre</tspan><tspan dy="-2.10" font-size="4.20">F</tspan><tspan dy="2.10"></tspan><tspan> IgG2a/IgG1</tspan></text>
<line x1="296.70" y1="140.20" x2="296.70" y2="143.70" stroke="#000" stroke-width="0.80"/>
<line x1="293.70" y1="140.20" x2="299.70" y2="140.20" stroke="#000" stroke-width="0.80"/>
<line x1="296.70" y1="151.50" x2="296.70" y2="169.60" stroke="#000" stroke-width="0.80"/>
<line x1="293.70" y1="169.60" x2="299.70" y2="169.60" stroke="#000" stroke-width="0.80"/>
<rect x="291.75" y="144.10" width="9.90" height="7.00" fill="#00ff00" stroke="#000" stroke-width="0.80"/>
<line x1="291.75" y1="147.50" x2="301.65" y2="147.50" stroke="#000" stroke-width="0.80"/>
<circle cx="295.09" cy="147.60" r="0.9" fill="#000"/>
<circle cx="298.63" cy="147.60" r="0.9" fill="#000"/>
<circle cx="296.70" cy="140.20" r="0.9" fill="#000"/>
<circle cx="296.70" cy="169.60" r="0.9" fill="#000"/>
<line x1="313.08" y1="117.90" x2="313.08" y2="125.30" stroke="#000" stroke-width="0.80"/>
<line x1="310.08" y1="117.90" x2="316.08" y2="117.90" stroke="#000" stroke-width="0.80"/>
<line x1="313.08" y1="136.60" x2="313.08" y2="143.40" stroke="#000" stroke-width="0.80"/>
<line x1="310.08" y1="143.40" x2="316.08" y2="143.40" stroke="#000" stroke-width="0.80"/>
<rect x="308.13" y="125.70" width="9.90" height="10.50" fill="#ff0000" stroke="#000" stroke-width="0.80"/>
<line x1="308.13" y1="129.20" x2="318.03" y2="129.20" stroke="#000" stroke-width="0.80"/>
<circle cx="313.08" cy="126.66" r="0.9" fill="#000"/>
<circle cx="314.69" cy="129.59" r="0.9" fill="#000"/>
<circle cx="311.47" cy="131.51" r="0.9" fill="#000"/>
<circle cx="313.08" cy="134.11" r="0.9" fill="#000"/>
<circle cx="314.36" cy="136.00" r="0.9" fill="#000"/>
<circle cx="313.08" cy="117.90" r="0.9" fill="#000"/>
<circle cx="313.08" cy="143.40" r="0.9" fill="#000"/>
<line x1="329.46" y1="137.40" x2="329.46" y2="142.50" stroke="#000" stroke-width="0.80"/>
<line x1="326.46" y1="137.40" x2="332.46" y2="137.40" stroke="#000" stroke-width="0.80"/>
<line x1="329.46" y1="150.20" x2="329.46" y2="179.60" stroke="#000" stroke-width="0.80"/>
<line x1="326.46" y1="179.60" x2="332.46" y2="179.60" stroke="#000" stroke-width="0.80"/>
<rect x="324.51" y="142.90" width="9.90" height="6.90" fill="#0000ff" stroke="#000" stroke-width="0.80"/>
<line x1="324.51" y1="146.00" x2="334.41" y2="146.00" stroke="#000" stroke-width="0.80"/>
<circle cx="327.85" cy="146.35" r="0.9" fill="#000"/>
<circle cx="331.39" cy="146.35" r="0.9" fill="#000"/>
<circle cx="329.46" cy="137.40" r="0.9" fill="#000"/>
<circle cx="329.46" cy="179.60" r="0.9" fill="#000"/>
<line x1="345.84" y1="130.90" x2="345.84" y2="133.60" stroke="#000" stroke-width="0.80"/>
<line x1="342.84" y1="130.90" x2="348.84" y2="130.90" stroke="#000" stroke-width="0.80"/>
<line x1="345.84" y1="145.30" x2="345.84" y2="150.60" stroke="#000" stroke-width="0.80"/>
<line x1="342.84" y1="150.60" x2="348.84" y2="150.60" stroke="#000" stroke-width="0.80"/>
<rect x="340.89" y="134.00" width="9.90" height="10.90" fill="#ff00ff" stroke="#000" stroke-width="0.80"/>
<line x1="340.89" y1="141.00" x2="350.79" y2="141.00" stroke="#000" stroke-width="0.80"/>
<circle cx="345.84" cy="135.00" r="0.9" fill="#000"/>
<circle cx="347.44" cy="138.05" r="0.9" fill="#000"/>
<circle cx="344.23" cy="140.03" r="0.9" fill="#000"/>
<circle cx="345.84" cy="142.73" r="0.9" fill="#000"/>
<circle cx="347.12" cy="144.70" r="0.9" fill="#000"/>
<circle cx="345.84" cy="130.90" r="0.9" fill="#000"/>
<circle cx="345.84" cy="150.60" r="0.9" fill="#000"/>
<line x1="362.22" y1="120.30" x2="362.22" y2="123.60" stroke="#000" stroke-width="0.80"/>
<line x1="359.22" y1="120.30" x2="365.22" y2="120.30" stroke="#000" stroke-width="0.80"/>
<line x1="362.22" y1="137.40" x2="362.22" y2="142.70" stroke="#000" stroke-width="0.80"/>
<line x1="359.22" y1="142.70" x2="365.22" y2="142.70" stroke="#000" stroke-width="0.80"/>
<rect x="357.27" y="124.00" width="9.90" height="13.00" fill="#800080" stroke="#000" stroke-width="0.80"/>
<line x1="357.27" y1="132.10" x2="367.17" y2="132.10" stroke="#000" stroke-width="0.80"/>
<circle cx="362.22" cy="125.26" r="0.9" fill="#000"/>
<circle cx="363.82" cy="128.84" r="0.9" fill="#000"/>
<circle cx="360.61" cy="131.19" r="0.9" fill="#000"/>
<circle cx="362.22" cy="134.36" r="0.9" fill="#000"/>
<circle cx="363.50" cy="136.80" r="0.9" fill="#000"/>
<circle cx="362.22" cy="120.30" r="0.9" fill="#000"/>
<circle cx="362.22" cy="142.70" r="0.9" fill="#000"/>
<line x1="378.60" y1="137.80" x2="378.60" y2="144.50" stroke="#000" stroke-width="0.80"/>
<line x1="375.60" y1="137.80" x2="381.60" y2="137.80" stroke="#000" stroke-width="0.80"/>
<line x1="378.60" y1="167.50" x2="378.60" y2="174.80" stroke="#000" stroke-width="0.80"/>
<line x1="375.60" y1="174.80" x2="381.60" y2="174.80" stroke="#000" stroke-width="0.80"/>
<rect x="373.65" y="144.90" width="9.90" height="22.20" fill="#ff8600" stroke="#000" stroke-width="0.80"/>
<line x1="373.65" y1="156.20" x2="383.55" y2="156.20" stroke="#000" stroke-width="0.80"/>
<circle cx="378.60" cy="147.26" r="0.9" fill="#000"/>
<circle cx="380.20" cy="153.24" r="0.9" fill="#000"/>
<circle cx="376.99" cy="157.15" r="0.9" fill="#000"/>
<circle cx="378.60" cy="162.44" r="0.9" fill="#000"/>
<circle cx="379.88" cy="166.90" r="0.9" fill="#000"/>
<circle cx="378.60" cy="137.80" r="0.9" fill="#000"/>
<circle cx="378.60" cy="174.80" r="0.9" fill="#000"/>
<line x1="425.30" y1="182.50" x2="426.90" y2="182.50" stroke="#000" stroke-width="0.80"/>
<text x="425.00" y="182.55" font-size="3.17" font-weight="bold" text-anchor="end" fill="#000">0</text>
<text x="423.34" y="184.70" font-size="4.40" font-weight="bold" text-anchor="end" textLength="4.10" lengthAdjust="spacingAndGlyphs" fill="#000">10</text>
<line x1="425.30" y1="165.40" x2="426.90" y2="165.40" stroke="#000" stroke-width="0.80"/>
<text x="425.00" y="165.45" font-size="3.17" font-weight="bold" text-anchor="end" fill="#000">1</text>
<text x="423.34" y="167.60" font-size="4.40" font-weight="bold" text-anchor="end" textLength="4.10" lengthAdjust="spacingAndGlyphs" fill="#000">10</text>
<line x1="425.30" y1="148.30" x2="426.90" y2="148.30" stroke="#000" stroke-width="0.80"/>
<text x="425.00" y="148.35" font-size="3.17" font-weight="bold" text-anchor="end" fill="#000">2</text>
<text x="423.34" y="150.50" font-size="4.40" font-weight="bold" text-anchor="end" textLength="4.10" lengthAdjust="spacingAndGlyphs" fill="#000">10</text>
<line x1="425.30" y1="131.20" x2="426.90" y2="131.20" stroke="#000" stroke-width="0.80"/>
<text x="425.00" y="131.25" font-size="3.17" font-weight="bold" text-anchor="end" fill="#000">3</text>
<text x="423.34" y="133.40" font-size="4.40" font-weight="bold" text-anchor="end" textLength="4.10" lengthAdjust="spacingAndGlyphs" fill="#000">10</text>
<line x1="425.30" y1="114.10" x2="426.90" y2="114.10" stroke="#000" stroke-width="0.80"/>
<text x="425.00" y="114.15" font-size="3.17" font-weight="bold" text-anchor="end" fill="#000">4</text>
<text x="423.34" y="116.30" font-size="4.40" font-weight="bold" text-anchor="end" textLength="4.10" lengthAdjust="spacingAndGlyphs" fill="#000">10</text>
<line x1="426.00" y1="177.35" x2="426.90" y2="177.35" stroke="#000" stroke-width="0.50"/>
<line x1="426.00" y1="174.34" x2="426.90" y2="174.34" stroke="#000" stroke-width="0.50"/>
<line x1="426.00" y1="172.20" x2="426.90" y2="172.20" stroke="#000" stroke-width="0.50"/>
<line x1="426.00" y1="170.55" x2="426.90" y2="170.55" stroke="#000" stroke-width="0.50"/>
<line x1="426.00" y1="169.19" x2="426.90" y2="169.19" stroke="#000" stroke-width="0.50"/>
<line x1="426.00" y1="168.05" x2="426.90" y2="168.05" stroke="#000" stroke-width="0.50"/>
<line x1="426.00" y1="167.06" x2="426.90" y2="167.06" stroke="#000" stroke-width="0.50"/>
<line x1="426.00" y1="166.18" x2="426.90" y2="166.18" stroke="#000" stroke-width="0.50"/>
<line x1="426.00" y1="160.25" x2="426.90" y2="160.25" stroke="#000" stroke-width="0.50"/>
<line x1="426.00" y1="157.24" x2="426.90" y2="157.24" stroke="#000" stroke-width="0.50"/>
<line x1="426.00" y1="155.10" x2="426.90" y2="155.10" stroke="#000" stroke-width="0.50"/>
<line x1="426.00" y1="153.45" x2="426.90" y2="153.45" stroke="#000" stroke-width="0.50"/>
<line x1="426.00" y1="152.09" x2="426.90" y2="152.09" stroke="#000" stroke-width="0.50"/>
<line x1="426.00" y1="150.95" x2="426.90" y2="150.95" stroke="#000" stroke-width="0.50"/>
<line x1="426.00" y1="149.96" x2="426.90" y2="149.96" stroke="#000" stroke-width="0.50"/>
<line x1="426.00" y1="149.08" x2="426.90" y2="149.08" stroke="#000" stroke-width="0.50"/>
<line x1="426.00" y1="143.15" x2="426.90" y2="143.15" stroke="#000" stroke-width="0.50"/>
<line x1="426.00" y1="140.14" x2="426.90" y2="140.14" stroke="#000" stroke-width="0.50"/>
<line x1="426.00" y1="138.00" x2="426.90" y2="138.00" stroke="#000" stroke-width="0.50"/>
<line x1="426.00" y1="136.35" x2="426.90" y2="136.35" stroke="#000" stroke-width="0.50"/>
<line x1="426.00" y1="134.99" x2="426.90" y2="134.99" stroke="#000" stroke-width="0.50"/>
<line x1="426.00" y1="133.85" x2="426.90" y2="133.85" stroke="#000" stroke-width="0.50"/>
<line x1="426.00" y1="132.86" x2="426.90" y2="132.86" stroke="#000" stroke-width="0.50"/>
<line x1="426.00" y1="131.98" x2="426.90" y2="131.98" stroke="#000" stroke-width="0.50"/>
<line x1="426.00" y1="126.05" x2="426.90" y2="126.05" stroke="#000" stroke-width="0.50"/>
<line x1="426.00" y1="123.04" x2="426.90" y2="123.04" stroke="#000" stroke-width="0.50"/>
<line x1="426.00" y1="120.90" x2="426.90" y2="120.90" stroke="#000" stroke-width="0.50"/>
<line x1="426.00" y1="119.25" x2="426.90" y2="119.25" stroke="#000" stroke-width="0.50"/>
<line x1="426.00" y1="117.89" x2="426.90" y2="117.89" stroke="#000" stroke-width="0.50"/>
<line x1="426.00" y1="116.75" x2="426.90" y2="116.75" stroke="#000" stroke-width="0.50"/>
<line x1="426.00" y1="115.76" x2="426.90" y2="115.76" stroke="#000" stroke-width="0.50"/>
<line x1="426.00" y1="114.88" x2="426.90" y2="114.88" stroke="#000" stroke-width="0.50"/>
<line x1="426.90" y1="114.10" x2="426.90" y2="183.10" stroke="#222" stroke-width="1.00"/>
<line x1="426.40" y1="182.60" x2="534.60" y2="182.60" stroke="#222" stroke-width="1.10"/>
<line x1="436.90" y1="182.60" x2="436.90" y2="184.00" stroke="#000" stroke-width="0.70"/>
<line x1="451.53" y1="182.60" x2="451.53" y2="184.00" stroke="#000" stroke-width="0.70"/>
<line x1="466.16" y1="182.60" x2="466.16" y2="184.00" stroke="#000" stroke-width="0.70"/>
<line x1="480.79" y1="182.60" x2="480.79" y2="184.00" stroke="#000" stroke-width="0.70"/>
<line x1="495.42" y1="182.60" x2="495.42" y2="184.00" stroke="#000" stroke-width="0.70"/>
<line x1="510.05" y1="182.60" x2="510.05" y2="184.00" stroke="#000" stroke-width="0.70"/>
<line x1="524.68" y1="182.60" x2="524.68" y2="184.00" stroke="#000" stroke-width="0.70"/>
<text transform="translate(437.90 189.20) rotate(-45)" x="0" y="0" font-size="5.60" font-weight="bold" text-anchor="end" fill="#000">SAL</text>
<text transform="translate(452.53 189.20) rotate(-45)" x="0" y="0" font-size="5.60" font-weight="bold" text-anchor="end" fill="#000">pre-F</text>
<text transform="translate(467.16 189.20) rotate(-45)" x="0" y="0" font-size="5.60" font-weight="bold" text-anchor="end" fill="#000">DDA052</text>
<text transform="translate(481.79 189.20) rotate(-45)" x="0" y="0" font-size="5.60" font-weight="bold" text-anchor="end" fill="#000">CAF01</text>
<text transform="translate(496.42 189.20) rotate(-45)" x="0" y="0" font-size="5.60" font-weight="bold" text-anchor="end" fill="#000">CAF08 low</text>
<text transform="translate(511.05 189.20) rotate(-45)" x="0" y="0" font-size="5.60" font-weight="bold" text-anchor="end" fill="#000">CAF08 high</text>
<text transform="translate(525.68 189.20) rotate(-45)" x="0" y="0" font-size="5.60" font-weight="bold" text-anchor="end" fill="#000">ADVX</text>
<text transform="translate(412.83 150.00) rotate(-90)" x="0" y="0" font-size="6.20" font-weight="bold" text-anchor="middle" textLength="61.00" lengthAdjust="spacingAndGlyphs" fill="#000"><tspan>Reciprocal EC</tspan><tspan dy="1.55" font-size="4.34">50</tspan><tspan dy="-1.55"></tspan><tspan> NT titer</tspan></text>
<line x1="436.90" y1="132.20" x2="436.90" y2="147.10" stroke="#000" stroke-width="0.80"/>
<line x1="434.30" y1="132.20" x2="439.50" y2="132.20" stroke="#000" stroke-width="0.80"/>
<rect x="432.65" y="147.50" width="8.50" height="17.80" fill="#969696" stroke="#000" stroke-width="0.80"/>
<line x1="432.65" y1="158.60" x2="441.15" y2="158.60" stroke="#000" stroke-width="0.80"/>
<circle cx="436.90" cy="149.33" r="0.9" fill="#000"/>
<circle cx="438.29" cy="154.17" r="0.9" fill="#000"/>
<circle cx="435.50" cy="157.33" r="0.9" fill="#000"/>
<circle cx="436.90" cy="161.61" r="0.9" fill="#000"/>
<circle cx="438.02" cy="165.10" r="0.9" fill="#000"/>
<circle cx="436.90" cy="132.20" r="0.9" fill="#000"/>
<line x1="451.53" y1="128.30" x2="451.53" y2="130.30" stroke="#000" stroke-width="0.80"/>
<line x1="448.93" y1="128.30" x2="454.13" y2="128.30" stroke="#000" stroke-width="0.80"/>
<rect x="447.28" y="130.70" width="8.50" height="27.90" fill="#00ff00" stroke="#000" stroke-width="0.80"/>
<line x1="447.28" y1="139.60" x2="455.78" y2="139.60" stroke="#000" stroke-width="0.80"/>
<circle cx="451.53" cy="133.74" r="0.9" fill="#000"/>
<circle cx="452.92" cy="141.21" r="0.9" fill="#000"/>
<circle cx="450.13" cy="146.09" r="0.9" fill="#000"/>
<circle cx="451.53" cy="152.69" r="0.9" fill="#000"/>
<circle cx="452.65" cy="158.40" r="0.9" fill="#000"/>
<circle cx="451.53" cy="128.30" r="0.9" fill="#000"/>
<line x1="466.16" y1="126.30" x2="466.16" y2="134.60" stroke="#000" stroke-width="0.80"/>
<line x1="463.56" y1="126.30" x2="468.76" y2="126.30" stroke="#000" stroke-width="0.80"/>
<line x1="466.16" y1="160.40" x2="466.16" y2="165.70" stroke="#000" stroke-width="0.80"/>
<line x1="463.56" y1="165.70" x2="468.76" y2="165.70" stroke="#000" stroke-width="0.80"/>
<rect x="461.91" y="135.00" width="8.50" height="25.00" fill="#ff0000" stroke="#000" stroke-width="0.80"/>
<line x1="461.91" y1="148.40" x2="470.41" y2="148.40" stroke="#000" stroke-width="0.80"/>
<circle cx="466.16" cy="137.70" r="0.9" fill="#000"/>
<circle cx="467.55" cy="144.40" r="0.9" fill="#000"/>
<circle cx="464.76" cy="148.79" r="0.9" fill="#000"/>
<circle cx="466.16" cy="154.72" r="0.9" fill="#000"/>
<circle cx="467.28" cy="159.80" r="0.9" fill="#000"/>
<circle cx="466.16" cy="126.30" r="0.9" fill="#000"/>
<circle cx="466.16" cy="165.70" r="0.9" fill="#000"/>
<line x1="480.79" y1="122.80" x2="480.79" y2="125.40" stroke="#000" stroke-width="0.80"/>
<line x1="478.19" y1="122.80" x2="483.39" y2="122.80" stroke="#000" stroke-width="0.80"/>
<line x1="480.79" y1="144.50" x2="480.79" y2="162.50" stroke="#000" stroke-width="0.80"/>
<line x1="478.19" y1="162.50" x2="483.39" y2="162.50" stroke="#000" stroke-width="0.80"/>
<rect x="476.54" y="125.80" width="8.50" height="18.30" fill="#0000ff" stroke="#000" stroke-width="0.80"/>
<line x1="476.54" y1="134.20" x2="485.04" y2="134.20" stroke="#000" stroke-width="0.80"/>
<circle cx="480.79" cy="127.69" r="0.9" fill="#000"/>
<circle cx="482.18" cy="132.66" r="0.9" fill="#000"/>
<circle cx="479.39" cy="135.91" r="0.9" fill="#000"/>
<circle cx="480.79" cy="140.30" r="0.9" fill="#000"/>
<circle cx="481.91" cy="143.90" r="0.9" fill="#000"/>
<circle cx="480.79" cy="122.80" r="0.9" fill="#000"/>
<circle cx="480.79" cy="162.50" r="0.9" fill="#000"/>
<line x1="495.42" y1="121.60" x2="495.42" y2="122.80" stroke="#000" stroke-width="0.80"/>
<line x1="492.82" y1="121.60" x2="498.02" y2="121.60" stroke="#000" stroke-width="0.80"/>
<line x1="495.42" y1="139.00" x2="495.42" y2="142.90" stroke="#000" stroke-width="0.80"/>
<line x1="492.82" y1="142.90" x2="498.02" y2="142.90" stroke="#000" stroke-width="0.80"/>
<rect x="491.17" y="123.20" width="8.50" height="15.40" fill="#ff00ff" stroke="#000" stroke-width="0.80"/>
<line x1="491.17" y1="129.20" x2="499.67" y2="129.20" stroke="#000" stroke-width="0.80"/>
<circle cx="495.42" cy="124.74" r="0.9" fill="#000"/>
<circle cx="496.81" cy="128.96" r="0.9" fill="#000"/>
<circle cx="494.02" cy="131.71" r="0.9" fill="#000"/>
<circle cx="495.42" cy="135.44" r="0.9" fill="#000"/>
<circle cx="496.54" cy="138.40" r="0.9" fill="#000"/>
<circle cx="495.42" cy="121.60" r="0.9" fill="#000"/>
<circle cx="495.42" cy="142.90" r="0.9" fill="#000"/>
<line x1="510.05" y1="123.00" x2="510.05" y2="130.10" stroke="#000" stroke-width="0.80"/>
<line x1="507.45" y1="123.00" x2="512.65" y2="123.00" stroke="#000" stroke-width="0.80"/>
<line x1="510.05" y1="159.00" x2="510.05" y2="162.50" stroke="#000" stroke-width="0.80"/>
<line x1="507.45" y1="162.50" x2="512.65" y2="162.50" stroke="#000" stroke-width="0.80"/>
<rect x="505.80" y="130.50" width="8.50" height="28.10" fill="#800080" stroke="#000" stroke-width="0.80"/>
<line x1="505.80" y1="131.30" x2="514.30" y2="131.30" stroke="#000" stroke-width="0.80"/>
<circle cx="510.05" cy="133.57" r="0.9" fill="#000"/>
<circle cx="511.44" cy="141.08" r="0.9" fill="#000"/>
<circle cx="508.65" cy="146.00" r="0.9" fill="#000"/>
<circle cx="510.05" cy="152.64" r="0.9" fill="#000"/>
<circle cx="511.17" cy="158.40" r="0.9" fill="#000"/>
<circle cx="510.05" cy="123.00" r="0.9" fill="#000"/>
<circle cx="510.05" cy="162.50" r="0.9" fill="#000"/>
<line x1="524.68" y1="131.90" x2="524.68" y2="138.60" stroke="#000" stroke-width="0.80"/>
<line x1="522.08" y1="131.90" x2="527.28" y2="131.90" stroke="#000" stroke-width="0.80"/>
<line x1="524.68" y1="163.70" x2="524.68" y2="164.90" stroke="#000" stroke-width="0.80"/>
<line x1="522.08" y1="164.90" x2="527.28" y2="164.90" stroke="#000" stroke-width="0.80"/>
<rect x="520.43" y="139.00" width="8.50" height="24.30" fill="#ff8600" stroke="#000" stroke-width="0.80"/>
<line x1="520.43" y1="153.50" x2="528.93" y2="153.50" stroke="#000" stroke-width="0.80"/>
<circle cx="524.68" cy="141.61" r="0.9" fill="#000"/>
<circle cx="526.07" cy="148.14" r="0.9" fill="#000"/>
<circle cx="523.28" cy="152.41" r="0.9" fill="#000"/>
<circle cx="524.68" cy="158.18" r="0.9" fill="#000"/>
<circle cx="525.80" cy="163.10" r="0.9" fill="#000"/>
<circle cx="524.68" cy="131.90" r="0.9" fill="#000"/>
<circle cx="524.68" cy="164.90" r="0.9" fill="#000"/>
<polygon points="480.79,116.08 481.52,116.70 482.33,117.20 481.97,118.08 481.74,119.01 480.79,118.94 479.84,119.01 479.61,118.08 479.25,117.20 480.06,116.70" fill="#111"/>
<polygon points="493.62,116.08 494.35,116.70 495.16,117.20 494.80,118.08 494.57,119.01 493.62,118.94 492.67,119.01 492.44,118.08 492.08,117.20 492.89,116.70" fill="#111"/>
<polygon points="497.22,116.08 497.95,116.70 498.76,117.20 498.40,118.08 498.17,119.01 497.22,118.94 496.27,119.01 496.04,118.08 495.68,117.20 496.49,116.70" fill="#111"/>
<line x1="18.40" y1="310.20" x2="20.00" y2="310.20" stroke="#000" stroke-width="0.80"/>
<text x="17.60" y="310.25" font-size="3.82" font-weight="bold" text-anchor="end" fill="#000">0</text>
<text x="15.58" y="312.40" font-size="5.30" font-weight="bold" text-anchor="end" textLength="5.20" lengthAdjust="spacingAndGlyphs" fill="#000">10</text>
<line x1="18.40" y1="302.86" x2="20.00" y2="302.86" stroke="#000" stroke-width="0.80"/>
<text x="17.60" y="302.91" font-size="3.82" font-weight="bold" text-anchor="end" fill="#000">1</text>
<text x="15.58" y="305.06" font-size="5.30" font-weight="bold" text-anchor="end" textLength="5.20" lengthAdjust="spacingAndGlyphs" fill="#000">10</text>
<line x1="18.40" y1="295.52" x2="20.00" y2="295.52" stroke="#000" stroke-width="0.80"/>
<text x="17.60" y="295.57" font-size="3.82" font-weight="bold" text-anchor="end" fill="#000">2</text>
<text x="15.58" y="297.72" font-size="5.30" font-weight="bold" text-anchor="end" textLength="5.20" lengthAdjust="spacingAndGlyphs" fill="#000">10</text>
<line x1="18.40" y1="288.18" x2="20.00" y2="288.18" stroke="#000" stroke-width="0.80"/>
<text x="17.60" y="288.23" font-size="3.82" font-weight="bold" text-anchor="end" fill="#000">3</text>
<text x="15.58" y="290.38" font-size="5.30" font-weight="bold" text-anchor="end" textLength="5.20" lengthAdjust="spacingAndGlyphs" fill="#000">10</text>
<line x1="18.40" y1="280.84" x2="20.00" y2="280.84" stroke="#000" stroke-width="0.80"/>
<text x="17.60" y="280.89" font-size="3.82" font-weight="bold" text-anchor="end" fill="#000">4</text>
<text x="15.58" y="283.04" font-size="5.30" font-weight="bold" text-anchor="end" textLength="5.20" lengthAdjust="spacingAndGlyphs" fill="#000">10</text>
<line x1="18.40" y1="273.50" x2="20.00" y2="273.50" stroke="#000" stroke-width="0.80"/>
<text x="17.60" y="273.55" font-size="3.82" font-weight="bold" text-anchor="end" fill="#000">5</text>
<text x="15.58" y="275.70" font-size="5.30" font-weight="bold" text-anchor="end" textLength="5.20" lengthAdjust="spacingAndGlyphs" fill="#000">10</text>
<line x1="18.40" y1="266.16" x2="20.00" y2="266.16" stroke="#000" stroke-width="0.80"/>
<text x="17.60" y="266.21" font-size="3.82" font-weight="bold" text-anchor="end" fill="#000">6</text>
<text x="15.58" y="268.36" font-size="5.30" font-weight="bold" text-anchor="end" textLength="5.20" lengthAdjust="spacingAndGlyphs" fill="#000">10</text>
<line x1="18.40" y1="258.82" x2="20.00" y2="258.82" stroke="#000" stroke-width="0.80"/>
<text x="17.60" y="258.87" font-size="3.82" font-weight="bold" text-anchor="end" fill="#000">7</text>
<text x="15.58" y="261.02" font-size="5.30" font-weight="bold" text-anchor="end" textLength="5.20" lengthAdjust="spacingAndGlyphs" fill="#000">10</text>
<line x1="18.40" y1="251.48" x2="20.00" y2="251.48" stroke="#000" stroke-width="0.80"/>
<text x="17.60" y="251.53" font-size="3.82" font-weight="bold" text-anchor="end" fill="#000">8</text>
<text x="15.58" y="253.68" font-size="5.30" font-weight="bold" text-anchor="end" textLength="5.20" lengthAdjust="spacingAndGlyphs" fill="#000">10</text>
<line x1="18.40" y1="244.14" x2="20.00" y2="244.14" stroke="#000" stroke-width="0.80"/>
<text x="17.60" y="244.19" font-size="3.82" font-weight="bold" text-anchor="end" fill="#000">9</text>
<text x="15.58" y="246.34" font-size="5.30" font-weight="bold" text-anchor="end" textLength="5.20" lengthAdjust="spacingAndGlyphs" fill="#000">10</text>
<line x1="20.00" y1="244.10" x2="20.00" y2="310.70" stroke="#222" stroke-width="1.00"/>
<line x1="19.50" y1="310.20" x2="118.30" y2="310.20" stroke="#222" stroke-width="1.10"/>
<line x1="28.60" y1="310.20" x2="28.60" y2="311.60" stroke="#000" stroke-width="0.70"/>
<line x1="45.02" y1="310.20" x2="45.02" y2="311.60" stroke="#000" stroke-width="0.70"/>
<line x1="61.44" y1="310.20" x2="61.44" y2="311.60" stroke="#000" stroke-width="0.70"/>
<line x1="77.86" y1="310.20" x2="77.86" y2="311.60" stroke="#000" stroke-width="0.70"/>
<line x1="94.28" y1="310.20" x2="94.28" y2="311.60" stroke="#000" stroke-width="0.70"/>
<line x1="110.70" y1="310.20" x2="110.70" y2="311.60" stroke="#000" stroke-width="0.70"/>
<text transform="translate(29.60 316.80) rotate(-45)" x="0" y="0" font-size="5.60" font-weight="bold" text-anchor="end" fill="#000">SAL</text>
<text transform="translate(46.02 316.80) rotate(-45)" x="0" y="0" font-size="5.60" font-weight="bold" text-anchor="end" fill="#000">pre-F</text>
<text transform="translate(62.44 316.80) rotate(-45)" x="0" y="0" font-size="5.60" font-weight="bold" text-anchor="end" fill="#000">DDA052</text>
<text transform="translate(78.86 316.80) rotate(-45)" x="0" y="0" font-size="5.60" font-weight="bold" text-anchor="end" fill="#000">CAF01</text>
<text transform="translate(95.28 316.80) rotate(-45)" x="0" y="0" font-size="5.60" font-weight="bold" text-anchor="end" fill="#000">CAF08 low</text>
<text transform="translate(111.70 316.80) rotate(-45)" x="0" y="0" font-size="5.60" font-weight="bold" text-anchor="end" fill="#000">CAF08 high</text>
<text transform="translate(6.64 277.65) rotate(-90)" x="0" y="0" font-size="6.50" font-weight="bold" text-anchor="middle" textLength="60.30" lengthAdjust="spacingAndGlyphs" fill="#000"><tspan>anti-pre</tspan><tspan dy="-2.27" font-size="4.55">F</tspan><tspan dy="2.27"></tspan><tspan> IgG1 (A.U./ml)</tspan></text>
<line x1="28.60" y1="298.00" x2="28.60" y2="299.10" stroke="#000" stroke-width="0.80"/>
<line x1="25.69" y1="298.00" x2="31.51" y2="298.00" stroke="#000" stroke-width="0.80"/>
<rect x="23.80" y="299.50" width="9.60" height="5.00" fill="#969696" stroke="#000" stroke-width="0.80"/>
<line x1="23.80" y1="304.00" x2="33.40" y2="304.00" stroke="#000" stroke-width="0.80"/>
<circle cx="27.04" cy="302.00" r="0.9" fill="#000"/>
<circle cx="30.47" cy="302.00" r="0.9" fill="#000"/>
<circle cx="28.60" cy="298.00" r="0.9" fill="#000"/>
<line x1="45.02" y1="261.90" x2="45.02" y2="263.10" stroke="#000" stroke-width="0.80"/>
<line x1="42.11" y1="261.90" x2="47.93" y2="261.90" stroke="#000" stroke-width="0.80"/>
<line x1="45.02" y1="268.60" x2="45.02" y2="269.30" stroke="#000" stroke-width="0.80"/>
<line x1="42.11" y1="269.30" x2="47.93" y2="269.30" stroke="#000" stroke-width="0.80"/>
<rect x="40.22" y="263.50" width="9.60" height="4.70" fill="#00ff00" stroke="#000" stroke-width="0.80"/>
<line x1="40.22" y1="265.80" x2="49.82" y2="265.80" stroke="#000" stroke-width="0.80"/>
<circle cx="43.46" cy="265.85" r="0.9" fill="#000"/>
<circle cx="46.89" cy="265.85" r="0.9" fill="#000"/>
<circle cx="45.02" cy="261.90" r="0.9" fill="#000"/>
<circle cx="45.02" cy="269.30" r="0.9" fill="#000"/>
<line x1="61.44" y1="259.20" x2="61.44" y2="262.20" stroke="#000" stroke-width="0.80"/>
<line x1="58.53" y1="259.20" x2="64.35" y2="259.20" stroke="#000" stroke-width="0.80"/>
<line x1="61.44" y1="268.40" x2="61.44" y2="272.20" stroke="#000" stroke-width="0.80"/>
<line x1="58.53" y1="272.20" x2="64.35" y2="272.20" stroke="#000" stroke-width="0.80"/>
<rect x="56.64" y="262.60" width="9.60" height="5.40" fill="#ff0000" stroke="#000" stroke-width="0.80"/>
<line x1="56.64" y1="265.00" x2="66.24" y2="265.00" stroke="#000" stroke-width="0.80"/>
<circle cx="59.88" cy="265.30" r="0.9" fill="#000"/>
<circle cx="63.31" cy="265.30" r="0.9" fill="#000"/>
<circle cx="61.44" cy="259.20" r="0.9" fill="#000"/>
<circle cx="61.44" cy="272.20" r="0.9" fill="#000"/>
<line x1="77.86" y1="254.80" x2="77.86" y2="255.40" stroke="#000" stroke-width="0.80"/>
<line x1="74.95" y1="254.80" x2="80.77" y2="254.80" stroke="#000" stroke-width="0.80"/>
<rect x="73.06" y="255.80" width="9.60" height="6.50" fill="#0000ff" stroke="#000" stroke-width="0.80"/>
<line x1="73.06" y1="259.00" x2="82.66" y2="259.00" stroke="#000" stroke-width="0.80"/>
<circle cx="76.30" cy="259.05" r="0.9" fill="#000"/>
<circle cx="79.73" cy="259.05" r="0.9" fill="#000"/>
<circle cx="77.86" cy="254.80" r="0.9" fill="#000"/>
<line x1="94.28" y1="251.80" x2="94.28" y2="253.60" stroke="#000" stroke-width="0.80"/>
<line x1="91.37" y1="251.80" x2="97.19" y2="251.80" stroke="#000" stroke-width="0.80"/>
<line x1="94.28" y1="263.40" x2="94.28" y2="267.80" stroke="#000" stroke-width="0.80"/>
<line x1="91.37" y1="267.80" x2="97.19" y2="267.80" stroke="#000" stroke-width="0.80"/>
<rect x="89.48" y="254.00" width="9.60" height="9.00" fill="#ff00ff" stroke="#000" stroke-width="0.80"/>
<line x1="89.48" y1="261.90" x2="99.08" y2="261.90" stroke="#000" stroke-width="0.80"/>
<circle cx="94.28" cy="254.78" r="0.9" fill="#000"/>
<circle cx="95.84" cy="257.32" r="0.9" fill="#000"/>
<circle cx="92.72" cy="258.99" r="0.9" fill="#000"/>
<circle cx="94.28" cy="261.24" r="0.9" fill="#000"/>
<circle cx="95.53" cy="262.80" r="0.9" fill="#000"/>
<circle cx="94.28" cy="251.80" r="0.9" fill="#000"/>
<circle cx="94.28" cy="267.80" r="0.9" fill="#000"/>
<line x1="110.70" y1="252.80" x2="110.70" y2="259.20" stroke="#000" stroke-width="0.80"/>
<line x1="107.79" y1="252.80" x2="113.61" y2="252.80" stroke="#000" stroke-width="0.80"/>
<line x1="110.70" y1="266.60" x2="110.70" y2="273.70" stroke="#000" stroke-width="0.80"/>
<line x1="107.79" y1="273.70" x2="113.61" y2="273.70" stroke="#000" stroke-width="0.80"/>
<rect x="105.90" y="259.60" width="9.60" height="6.60" fill="#800080" stroke="#000" stroke-width="0.80"/>
<line x1="105.90" y1="263.60" x2="115.50" y2="263.60" stroke="#000" stroke-width="0.80"/>
<circle cx="109.14" cy="262.90" r="0.9" fill="#000"/>
<circle cx="112.57" cy="262.90" r="0.9" fill="#000"/>
<circle cx="110.70" cy="252.80" r="0.9" fill="#000"/>
<circle cx="110.70" cy="273.70" r="0.9" fill="#000"/>
<polygon points="45.02,244.08 45.75,244.70 46.56,245.20 46.20,246.08 45.97,247.01 45.02,246.94 44.07,247.01 43.84,246.08 43.48,245.20 44.29,244.70" fill="#111"/>
<polygon points="59.64,244.08 60.37,244.70 61.18,245.20 60.82,246.08 60.59,247.01 59.64,246.94 58.69,247.01 58.46,246.08 58.10,245.20 58.91,244.70" fill="#111"/>
<polygon points="63.24,244.08 63.97,244.70 64.78,245.20 64.42,246.08 64.19,247.01 63.24,246.94 62.29,247.01 62.06,246.08 61.70,245.20 62.51,244.70" fill="#111"/>
<polygon points="76.06,244.08 76.79,244.70 77.60,245.20 77.24,246.08 77.01,247.01 76.06,246.94 75.11,247.01 74.88,246.08 74.52,245.20 75.33,244.70" fill="#111"/>
<polygon points="79.66,244.08 80.39,244.70 81.20,245.20 80.84,246.08 80.61,247.01 79.66,246.94 78.71,247.01 78.48,246.08 78.12,245.20 78.93,244.70" fill="#111"/>
<polygon points="92.48,244.08 93.21,244.70 94.02,245.20 93.66,246.08 93.43,247.01 92.48,246.94 91.53,247.01 91.30,246.08 90.94,245.20 91.75,244.70" fill="#111"/>
<polygon points="96.08,244.08 96.81,244.70 97.62,245.20 97.26,246.08 97.03,247.01 96.08,246.94 95.13,247.01 94.90,246.08 94.54,245.20 95.35,244.70" fill="#111"/>
<polygon points="108.90,244.08 109.63,244.70 110.44,245.20 110.08,246.08 109.85,247.01 108.90,246.94 107.95,247.01 107.72,246.08 107.36,245.20 108.17,244.70" fill="#111"/>
<polygon points="112.50,244.08 113.23,244.70 114.04,245.20 113.68,246.08 113.45,247.01 112.50,246.94 111.55,247.01 111.32,246.08 110.96,245.20 111.77,244.70" fill="#111"/>
<line x1="143.80" y1="310.20" x2="145.40" y2="310.20" stroke="#000" stroke-width="0.80"/>
<text x="143.00" y="310.25" font-size="3.82" font-weight="bold" text-anchor="end" fill="#000">0</text>
<text x="140.98" y="312.40" font-size="5.30" font-weight="bold" text-anchor="end" textLength="5.20" lengthAdjust="spacingAndGlyphs" fill="#000">10</text>
<line x1="143.80" y1="302.85" x2="145.40" y2="302.85" stroke="#000" stroke-width="0.80"/>
<text x="143.00" y="302.90" font-size="3.82" font-weight="bold" text-anchor="end" fill="#000">1</text>
<text x="140.98" y="305.05" font-size="5.30" font-weight="bold" text-anchor="end" textLength="5.20" lengthAdjust="spacingAndGlyphs" fill="#000">10</text>
<line x1="143.80" y1="295.50" x2="145.40" y2="295.50" stroke="#000" stroke-width="0.80"/>
<text x="143.00" y="295.55" font-size="3.82" font-weight="bold" text-anchor="end" fill="#000">2</text>
<text x="140.98" y="297.70" font-size="5.30" font-weight="bold" text-anchor="end" textLength="5.20" lengthAdjust="spacingAndGlyphs" fill="#000">10</text>
<line x1="143.80" y1="288.15" x2="145.40" y2="288.15" stroke="#000" stroke-width="0.80"/>
<text x="143.00" y="288.20" font-size="3.82" font-weight="bold" text-anchor="end" fill="#000">3</text>
<text x="140.98" y="290.35" font-size="5.30" font-weight="bold" text-anchor="end" textLength="5.20" lengthAdjust="spacingAndGlyphs" fill="#000">10</text>
<line x1="143.80" y1="280.80" x2="145.40" y2="280.80" stroke="#000" stroke-width="0.80"/>
<text x="143.00" y="280.85" font-size="3.82" font-weight="bold" text-anchor="end" fill="#000">4</text>
<text x="140.98" y="283.00" font-size="5.30" font-weight="bold" text-anchor="end" textLength="5.20" lengthAdjust="spacingAndGlyphs" fill="#000">10</text>
<line x1="143.80" y1="273.45" x2="145.40" y2="273.45" stroke="#000" stroke-width="0.80"/>
<text x="143.00" y="273.50" font-size="3.82" font-weight="bold" text-anchor="end" fill="#000">5</text>
<text x="140.98" y="275.65" font-size="5.30" font-weight="bold" text-anchor="end" textLength="5.20" lengthAdjust="spacingAndGlyphs" fill="#000">10</text>
<line x1="143.80" y1="266.10" x2="145.40" y2="266.10" stroke="#000" stroke-width="0.80"/>
<text x="143.00" y="266.15" font-size="3.82" font-weight="bold" text-anchor="end" fill="#000">6</text>
<text x="140.98" y="268.30" font-size="5.30" font-weight="bold" text-anchor="end" textLength="5.20" lengthAdjust="spacingAndGlyphs" fill="#000">10</text>
<line x1="143.80" y1="258.75" x2="145.40" y2="258.75" stroke="#000" stroke-width="0.80"/>
<text x="143.00" y="258.80" font-size="3.82" font-weight="bold" text-anchor="end" fill="#000">7</text>
<text x="140.98" y="260.95" font-size="5.30" font-weight="bold" text-anchor="end" textLength="5.20" lengthAdjust="spacingAndGlyphs" fill="#000">10</text>
<line x1="143.80" y1="251.40" x2="145.40" y2="251.40" stroke="#000" stroke-width="0.80"/>
<text x="143.00" y="251.45" font-size="3.82" font-weight="bold" text-anchor="end" fill="#000">8</text>
<text x="140.98" y="253.60" font-size="5.30" font-weight="bold" text-anchor="end" textLength="5.20" lengthAdjust="spacingAndGlyphs" fill="#000">10</text>
<line x1="143.80" y1="244.05" x2="145.40" y2="244.05" stroke="#000" stroke-width="0.80"/>
<text x="143.00" y="244.10" font-size="3.82" font-weight="bold" text-anchor="end" fill="#000">9</text>
<text x="140.98" y="246.25" font-size="5.30" font-weight="bold" text-anchor="end" textLength="5.20" lengthAdjust="spacingAndGlyphs" fill="#000">10</text>
<line x1="145.40" y1="244.00" x2="145.40" y2="310.70" stroke="#222" stroke-width="1.00"/>
<line x1="144.90" y1="310.20" x2="243.10" y2="310.20" stroke="#222" stroke-width="1.10"/>
<line x1="153.40" y1="310.20" x2="153.40" y2="311.60" stroke="#000" stroke-width="0.70"/>
<line x1="169.80" y1="310.20" x2="169.80" y2="311.60" stroke="#000" stroke-width="0.70"/>
<line x1="186.20" y1="310.20" x2="186.20" y2="311.60" stroke="#000" stroke-width="0.70"/>
<line x1="202.60" y1="310.20" x2="202.60" y2="311.60" stroke="#000" stroke-width="0.70"/>
<line x1="219.00" y1="310.20" x2="219.00" y2="311.60" stroke="#000" stroke-width="0.70"/>
<line x1="235.40" y1="310.20" x2="235.40" y2="311.60" stroke="#000" stroke-width="0.70"/>
<text transform="translate(154.40 316.80) rotate(-45)" x="0" y="0" font-size="5.60" font-weight="bold" text-anchor="end" fill="#000">SAL</text>
<text transform="translate(170.80 316.80) rotate(-45)" x="0" y="0" font-size="5.60" font-weight="bold" text-anchor="end" fill="#000">pre-F</text>
<text transform="translate(187.20 316.80) rotate(-45)" x="0" y="0" font-size="5.60" font-weight="bold" text-anchor="end" fill="#000">DDA052</text>
<text transform="translate(203.60 316.80) rotate(-45)" x="0" y="0" font-size="5.60" font-weight="bold" text-anchor="end" fill="#000">CAF01</text>
<text transform="translate(220.00 316.80) rotate(-45)" x="0" y="0" font-size="5.60" font-weight="bold" text-anchor="end" fill="#000">CAF08 low</text>
<text transform="translate(236.40 316.80) rotate(-45)" x="0" y="0" font-size="5.60" font-weight="bold" text-anchor="end" fill="#000">CAF08 high</text>
<text transform="translate(130.54 277.40) rotate(-90)" x="0" y="0" font-size="6.50" font-weight="bold" text-anchor="middle" textLength="62.20" lengthAdjust="spacingAndGlyphs" fill="#000"><tspan>anti-pre</tspan><tspan dy="-2.27" font-size="4.55">F</tspan><tspan dy="2.27"></tspan><tspan> IgG2a (A.U./ml)</tspan></text>
<line x1="153.40" y1="292.50" x2="153.40" y2="293.30" stroke="#000" stroke-width="0.80"/>
<line x1="150.49" y1="292.50" x2="156.31" y2="292.50" stroke="#000" stroke-width="0.80"/>
<line x1="153.40" y1="300.40" x2="153.40" y2="303.60" stroke="#000" stroke-width="0.80"/>
<line x1="150.49" y1="303.60" x2="156.31" y2="303.60" stroke="#000" stroke-width="0.80"/>
<rect x="148.60" y="293.70" width="9.60" height="6.30" fill="#969696" stroke="#000" stroke-width="0.80"/>
<line x1="148.60" y1="296.00" x2="158.20" y2="296.00" stroke="#000" stroke-width="0.80"/>
<circle cx="151.84" cy="296.85" r="0.9" fill="#000"/>
<circle cx="155.27" cy="296.85" r="0.9" fill="#000"/>
<circle cx="153.40" cy="292.50" r="0.9" fill="#000"/>
<circle cx="153.40" cy="303.60" r="0.9" fill="#000"/>
<line x1="169.80" y1="281.20" x2="169.80" y2="282.40" stroke="#000" stroke-width="0.80"/>
<line x1="166.89" y1="281.20" x2="172.71" y2="281.20" stroke="#000" stroke-width="0.80"/>
<line x1="169.80" y1="293.20" x2="169.80" y2="295.40" stroke="#000" stroke-width="0.80"/>
<line x1="166.89" y1="295.40" x2="172.71" y2="295.40" stroke="#000" stroke-width="0.80"/>
<rect x="165.00" y="282.80" width="9.60" height="10.00" fill="#00ff00" stroke="#000" stroke-width="0.80"/>
<line x1="165.00" y1="289.80" x2="174.60" y2="289.80" stroke="#000" stroke-width="0.80"/>
<circle cx="169.80" cy="283.70" r="0.9" fill="#000"/>
<circle cx="171.36" cy="286.50" r="0.9" fill="#000"/>
<circle cx="168.24" cy="288.34" r="0.9" fill="#000"/>
<circle cx="169.80" cy="290.82" r="0.9" fill="#000"/>
<circle cx="171.05" cy="292.60" r="0.9" fill="#000"/>
<circle cx="169.80" cy="281.20" r="0.9" fill="#000"/>
<circle cx="169.80" cy="295.40" r="0.9" fill="#000"/>
<line x1="186.20" y1="257.50" x2="186.20" y2="264.90" stroke="#000" stroke-width="0.80"/>
<line x1="183.29" y1="257.50" x2="189.11" y2="257.50" stroke="#000" stroke-width="0.80"/>
<line x1="186.20" y1="269.90" x2="186.20" y2="274.90" stroke="#000" stroke-width="0.80"/>
<line x1="183.29" y1="274.90" x2="189.11" y2="274.90" stroke="#000" stroke-width="0.80"/>
<rect x="181.40" y="265.30" width="9.60" height="4.20" fill="#ff0000" stroke="#000" stroke-width="0.80"/>
<line x1="181.40" y1="267.40" x2="191.00" y2="267.40" stroke="#000" stroke-width="0.80"/>
<circle cx="184.64" cy="267.40" r="0.9" fill="#000"/>
<circle cx="188.07" cy="267.40" r="0.9" fill="#000"/>
<circle cx="186.20" cy="257.50" r="0.9" fill="#000"/>
<circle cx="186.20" cy="274.90" r="0.9" fill="#000"/>
<line x1="202.60" y1="278.70" x2="202.60" y2="281.30" stroke="#000" stroke-width="0.80"/>
<line x1="199.69" y1="281.30" x2="205.51" y2="281.30" stroke="#000" stroke-width="0.80"/>
<rect x="197.80" y="269.20" width="9.60" height="9.10" fill="#0000ff" stroke="#000" stroke-width="0.80"/>
<circle cx="202.60" cy="269.99" r="0.9" fill="#000"/>
<circle cx="204.16" cy="272.56" r="0.9" fill="#000"/>
<circle cx="201.04" cy="274.25" r="0.9" fill="#000"/>
<circle cx="202.60" cy="276.52" r="0.9" fill="#000"/>
<circle cx="203.85" cy="278.10" r="0.9" fill="#000"/>
<circle cx="202.60" cy="281.30" r="0.9" fill="#000"/>
<line x1="219.00" y1="263.40" x2="219.00" y2="266.80" stroke="#000" stroke-width="0.80"/>
<line x1="216.09" y1="263.40" x2="221.91" y2="263.40" stroke="#000" stroke-width="0.80"/>
<line x1="219.00" y1="271.00" x2="219.00" y2="277.90" stroke="#000" stroke-width="0.80"/>
<line x1="216.09" y1="277.90" x2="221.91" y2="277.90" stroke="#000" stroke-width="0.80"/>
<rect x="214.20" y="267.20" width="9.60" height="3.40" fill="#ff00ff" stroke="#000" stroke-width="0.80"/>
<line x1="214.20" y1="269.00" x2="223.80" y2="269.00" stroke="#000" stroke-width="0.80"/>
<circle cx="217.44" cy="268.90" r="0.9" fill="#000"/>
<circle cx="220.87" cy="268.90" r="0.9" fill="#000"/>
<circle cx="219.00" cy="263.40" r="0.9" fill="#000"/>
<circle cx="219.00" cy="277.90" r="0.9" fill="#000"/>
<line x1="235.40" y1="263.40" x2="235.40" y2="268.50" stroke="#000" stroke-width="0.80"/>
<line x1="232.49" y1="263.40" x2="238.31" y2="263.40" stroke="#000" stroke-width="0.80"/>
<line x1="235.40" y1="272.00" x2="235.40" y2="274.90" stroke="#000" stroke-width="0.80"/>
<line x1="232.49" y1="274.90" x2="238.31" y2="274.90" stroke="#000" stroke-width="0.80"/>
<rect x="230.60" y="268.90" width="9.60" height="2.70" fill="#800080" stroke="#000" stroke-width="0.80"/>
<line x1="230.60" y1="270.20" x2="240.20" y2="270.20" stroke="#000" stroke-width="0.80"/>
<circle cx="233.84" cy="270.25" r="0.9" fill="#000"/>
<circle cx="237.27" cy="270.25" r="0.9" fill="#000"/>
<circle cx="235.40" cy="263.40" r="0.9" fill="#000"/>
<circle cx="235.40" cy="274.90" r="0.9" fill="#000"/>
<text x="166.00" y="252.80" font-size="6.60" font-weight="bold" textLength="7.10" lengthAdjust="spacingAndGlyphs" text-anchor="start" fill="#000">ns</text>
<polygon points="184.40,248.38 185.13,249.00 185.94,249.50 185.58,250.38 185.35,251.31 184.40,251.24 183.45,251.31 183.22,250.38 182.86,249.50 183.67,249.00" fill="#111"/>
<polygon points="188.00,248.38 188.73,249.00 189.54,249.50 189.18,250.38 188.95,251.31 188.00,251.24 187.05,251.31 186.82,250.38 186.46,249.50 187.27,249.00" fill="#111"/>
<polygon points="200.80,248.38 201.53,249.00 202.34,249.50 201.98,250.38 201.75,251.31 200.80,251.24 199.85,251.31 199.62,250.38 199.26,249.50 200.07,249.00" fill="#111"/>
<polygon points="204.40,248.38 205.13,249.00 205.94,249.50 205.58,250.38 205.35,251.31 204.40,251.24 203.45,251.31 203.22,250.38 202.86,249.50 203.67,249.00" fill="#111"/>
<polygon points="217.20,248.38 217.93,249.00 218.74,249.50 218.38,250.38 218.15,251.31 217.20,251.24 216.25,251.31 216.02,250.38 215.66,249.50 216.47,249.00" fill="#111"/>
<polygon points="220.80,248.38 221.53,249.00 222.34,249.50 221.98,250.38 221.75,251.31 220.80,251.24 219.85,251.31 219.62,250.38 219.26,249.50 220.07,249.00" fill="#111"/>
<polygon points="233.60,248.38 234.33,249.00 235.14,249.50 234.78,250.38 234.55,251.31 233.60,251.24 232.65,251.31 232.42,250.38 232.06,249.50 232.87,249.00" fill="#111"/>
<polygon points="237.20,248.38 237.93,249.00 238.74,249.50 238.38,250.38 238.15,251.31 237.20,251.24 236.25,251.31 236.02,250.38 235.66,249.50 236.47,249.00" fill="#111"/>
<line x1="286.60" y1="311.00" x2="288.20" y2="311.00" stroke="#000" stroke-width="0.80"/>
<text x="285.80" y="311.05" font-size="3.82" font-weight="bold" text-anchor="end" fill="#000">-6</text>
<text x="282.51" y="313.20" font-size="5.30" font-weight="bold" text-anchor="end" textLength="5.20" lengthAdjust="spacingAndGlyphs" fill="#000">10</text>
<line x1="286.60" y1="302.75" x2="288.20" y2="302.75" stroke="#000" stroke-width="0.80"/>
<text x="285.80" y="302.80" font-size="3.82" font-weight="bold" text-anchor="end" fill="#000">-5</text>
<text x="282.51" y="304.95" font-size="5.30" font-weight="bold" text-anchor="end" textLength="5.20" lengthAdjust="spacingAndGlyphs" fill="#000">10</text>
<line x1="286.60" y1="294.50" x2="288.20" y2="294.50" stroke="#000" stroke-width="0.80"/>
<text x="285.80" y="294.55" font-size="3.82" font-weight="bold" text-anchor="end" fill="#000">-4</text>
<text x="282.51" y="296.70" font-size="5.30" font-weight="bold" text-anchor="end" textLength="5.20" lengthAdjust="spacingAndGlyphs" fill="#000">10</text>
<line x1="286.60" y1="286.25" x2="288.20" y2="286.25" stroke="#000" stroke-width="0.80"/>
<text x="285.80" y="286.30" font-size="3.82" font-weight="bold" text-anchor="end" fill="#000">-3</text>
<text x="282.51" y="288.45" font-size="5.30" font-weight="bold" text-anchor="end" textLength="5.20" lengthAdjust="spacingAndGlyphs" fill="#000">10</text>
<line x1="286.60" y1="278.00" x2="288.20" y2="278.00" stroke="#000" stroke-width="0.80"/>
<text x="285.80" y="278.05" font-size="3.82" font-weight="bold" text-anchor="end" fill="#000">-2</text>
<text x="282.51" y="280.20" font-size="5.30" font-weight="bold" text-anchor="end" textLength="5.20" lengthAdjust="spacingAndGlyphs" fill="#000">10</text>
<line x1="286.60" y1="269.75" x2="288.20" y2="269.75" stroke="#000" stroke-width="0.80"/>
<text x="285.80" y="269.80" font-size="3.82" font-weight="bold" text-anchor="end" fill="#000">-1</text>
<text x="282.51" y="271.95" font-size="5.30" font-weight="bold" text-anchor="end" textLength="5.20" lengthAdjust="spacingAndGlyphs" fill="#000">10</text>
<line x1="286.60" y1="261.50" x2="288.20" y2="261.50" stroke="#000" stroke-width="0.80"/>
<text x="285.80" y="261.55" font-size="3.82" font-weight="bold" text-anchor="end" fill="#000">0</text>
<text x="283.78" y="263.70" font-size="5.30" font-weight="bold" text-anchor="end" textLength="5.20" lengthAdjust="spacingAndGlyphs" fill="#000">10</text>
<line x1="286.60" y1="253.25" x2="288.20" y2="253.25" stroke="#000" stroke-width="0.80"/>
<text x="285.80" y="253.30" font-size="3.82" font-weight="bold" text-anchor="end" fill="#000">1</text>
<text x="283.78" y="255.45" font-size="5.30" font-weight="bold" text-anchor="end" textLength="5.20" lengthAdjust="spacingAndGlyphs" fill="#000">10</text>
<line x1="286.60" y1="245.00" x2="288.20" y2="245.00" stroke="#000" stroke-width="0.80"/>
<text x="285.80" y="245.05" font-size="3.82" font-weight="bold" text-anchor="end" fill="#000">2</text>
<text x="283.78" y="247.20" font-size="5.30" font-weight="bold" text-anchor="end" textLength="5.20" lengthAdjust="spacingAndGlyphs" fill="#000">10</text>
<line x1="288.20" y1="244.50" x2="288.20" y2="311.80" stroke="#222" stroke-width="1.00"/>
<line x1="287.70" y1="311.30" x2="387.50" y2="311.30" stroke="#222" stroke-width="1.10"/>
<line x1="298.50" y1="311.30" x2="298.50" y2="312.70" stroke="#000" stroke-width="0.70"/>
<line x1="318.28" y1="311.30" x2="318.28" y2="312.70" stroke="#000" stroke-width="0.70"/>
<line x1="338.06" y1="311.30" x2="338.06" y2="312.70" stroke="#000" stroke-width="0.70"/>
<line x1="357.84" y1="311.30" x2="357.84" y2="312.70" stroke="#000" stroke-width="0.70"/>
<line x1="377.62" y1="311.30" x2="377.62" y2="312.70" stroke="#000" stroke-width="0.70"/>
<text transform="translate(299.50 317.90) rotate(-45)" x="0" y="0" font-size="5.60" font-weight="bold" text-anchor="end" fill="#000">pre-F</text>
<text transform="translate(319.28 317.90) rotate(-45)" x="0" y="0" font-size="5.60" font-weight="bold" text-anchor="end" fill="#000">DDA052</text>
<text transform="translate(339.06 317.90) rotate(-45)" x="0" y="0" font-size="5.60" font-weight="bold" text-anchor="end" fill="#000">CAF01</text>
<text transform="translate(358.84 317.90) rotate(-45)" x="0" y="0" font-size="5.60" font-weight="bold" text-anchor="end" fill="#000">CAF08 low</text>
<text transform="translate(378.62 317.90) rotate(-45)" x="0" y="0" font-size="5.60" font-weight="bold" text-anchor="end" fill="#000">CAF08 high</text>
<text transform="translate(267.46 280.95) rotate(-90)" x="0" y="0" font-size="6.00" font-weight="bold" text-anchor="middle" textLength="47.30" lengthAdjust="spacingAndGlyphs" fill="#000"><tspan>anti-pre</tspan><tspan dy="-2.10" font-size="4.20">F</tspan><tspan dy="2.10"></tspan><tspan> IgG2a/IgG1</tspan></text>
<line x1="298.50" y1="279.20" x2="298.50" y2="280.80" stroke="#000" stroke-width="0.80"/>
<line x1="294.97" y1="279.20" x2="302.03" y2="279.20" stroke="#000" stroke-width="0.80"/>
<line x1="298.50" y1="290.20" x2="298.50" y2="298.90" stroke="#000" stroke-width="0.80"/>
<line x1="294.97" y1="298.90" x2="302.03" y2="298.90" stroke="#000" stroke-width="0.80"/>
<rect x="292.60" y="281.20" width="11.80" height="8.60" fill="#00ff00" stroke="#000" stroke-width="0.80"/>
<line x1="292.60" y1="285.10" x2="304.40" y2="285.10" stroke="#000" stroke-width="0.80"/>
<circle cx="298.50" cy="281.93" r="0.9" fill="#000"/>
<circle cx="300.39" cy="284.37" r="0.9" fill="#000"/>
<circle cx="296.61" cy="285.97" r="0.9" fill="#000"/>
<circle cx="298.50" cy="288.13" r="0.9" fill="#000"/>
<circle cx="300.01" cy="289.60" r="0.9" fill="#000"/>
<circle cx="298.50" cy="279.20" r="0.9" fill="#000"/>
<circle cx="298.50" cy="298.90" r="0.9" fill="#000"/>
<line x1="318.28" y1="271.60" x2="318.28" y2="275.40" stroke="#000" stroke-width="0.80"/>
<line x1="314.75" y1="275.40" x2="321.81" y2="275.40" stroke="#000" stroke-width="0.80"/>
<rect x="312.38" y="256.90" width="11.80" height="14.30" fill="#ff0000" stroke="#000" stroke-width="0.80"/>
<line x1="312.38" y1="260.50" x2="324.18" y2="260.50" stroke="#000" stroke-width="0.80"/>
<circle cx="318.28" cy="258.31" r="0.9" fill="#000"/>
<circle cx="320.17" cy="262.24" r="0.9" fill="#000"/>
<circle cx="316.39" cy="264.81" r="0.9" fill="#000"/>
<circle cx="318.28" cy="268.28" r="0.9" fill="#000"/>
<circle cx="319.79" cy="271.00" r="0.9" fill="#000"/>
<circle cx="318.28" cy="275.40" r="0.9" fill="#000"/>
<line x1="338.06" y1="268.30" x2="338.06" y2="277.80" stroke="#000" stroke-width="0.80"/>
<line x1="334.53" y1="268.30" x2="341.59" y2="268.30" stroke="#000" stroke-width="0.80"/>
<line x1="338.06" y1="285.80" x2="338.06" y2="290.20" stroke="#000" stroke-width="0.80"/>
<line x1="334.53" y1="290.20" x2="341.59" y2="290.20" stroke="#000" stroke-width="0.80"/>
<rect x="332.16" y="278.20" width="11.80" height="7.20" fill="#0000ff" stroke="#000" stroke-width="0.80"/>
<line x1="332.16" y1="281.00" x2="343.96" y2="281.00" stroke="#000" stroke-width="0.80"/>
<circle cx="338.06" cy="278.76" r="0.9" fill="#000"/>
<circle cx="339.95" cy="280.84" r="0.9" fill="#000"/>
<circle cx="336.17" cy="282.20" r="0.9" fill="#000"/>
<circle cx="338.06" cy="284.04" r="0.9" fill="#000"/>
<circle cx="339.57" cy="285.20" r="0.9" fill="#000"/>
<circle cx="338.06" cy="268.30" r="0.9" fill="#000"/>
<circle cx="338.06" cy="290.20" r="0.9" fill="#000"/>
<line x1="357.84" y1="261.20" x2="357.84" y2="264.30" stroke="#000" stroke-width="0.80"/>
<line x1="354.31" y1="261.20" x2="361.37" y2="261.20" stroke="#000" stroke-width="0.80"/>
<line x1="357.84" y1="282.10" x2="357.84" y2="289.10" stroke="#000" stroke-width="0.80"/>
<line x1="354.31" y1="289.10" x2="361.37" y2="289.10" stroke="#000" stroke-width="0.80"/>
<rect x="351.94" y="264.70" width="11.80" height="17.00" fill="#ff00ff" stroke="#000" stroke-width="0.80"/>
<line x1="351.94" y1="268.70" x2="363.74" y2="268.70" stroke="#000" stroke-width="0.80"/>
<circle cx="357.84" cy="266.44" r="0.9" fill="#000"/>
<circle cx="359.73" cy="271.06" r="0.9" fill="#000"/>
<circle cx="355.95" cy="274.09" r="0.9" fill="#000"/>
<circle cx="357.84" cy="278.18" r="0.9" fill="#000"/>
<circle cx="359.35" cy="281.50" r="0.9" fill="#000"/>
<circle cx="357.84" cy="261.20" r="0.9" fill="#000"/>
<circle cx="357.84" cy="289.10" r="0.9" fill="#000"/>
<line x1="377.62" y1="258.30" x2="377.62" y2="264.90" stroke="#000" stroke-width="0.80"/>
<line x1="374.09" y1="258.30" x2="381.15" y2="258.30" stroke="#000" stroke-width="0.80"/>
<rect x="371.72" y="265.30" width="11.80" height="8.10" fill="#800080" stroke="#000" stroke-width="0.80"/>
<line x1="371.72" y1="269.00" x2="383.52" y2="269.00" stroke="#000" stroke-width="0.80"/>
<circle cx="377.62" cy="265.97" r="0.9" fill="#000"/>
<circle cx="379.51" cy="268.28" r="0.9" fill="#000"/>
<circle cx="375.73" cy="269.80" r="0.9" fill="#000"/>
<circle cx="377.62" cy="271.84" r="0.9" fill="#000"/>
<circle cx="379.13" cy="273.20" r="0.9" fill="#000"/>
<circle cx="377.62" cy="258.30" r="0.9" fill="#000"/>
<rect x="416.60" y="222.90" width="25.40" height="11.00" fill="#b3b3b3" stroke="#222" stroke-width="1.30"/>
<text x="447.00" y="231.30" font-size="8.35" fill="#000"><tspan font-weight="bold">SAL</tspan>: Saline</text>
<rect x="416.60" y="237.35" width="25.40" height="11.00" fill="#00ff00" stroke="#222" stroke-width="1.30"/>
<text x="447.10" y="245.66" font-size="8.35" fill="#000"><tspan font-weight="bold">pre-F</tspan>: 20 µg/ml RSV pre-fusion antigen</text>
<rect x="416.60" y="251.80" width="25.40" height="11.00" fill="#ff0000" stroke="#222" stroke-width="1.30"/>
<text x="447.00" y="260.02" font-size="8.35" fill="#000"><tspan font-weight="bold">DDA052</tspan>: 0.5 mg/ml 3M-052; 20 µg/ml pre-F</text>
<rect x="416.60" y="266.25" width="25.40" height="11.00" fill="#0000ff" stroke="#222" stroke-width="1.30"/>
<text x="447.00" y="274.38" font-size="8.35" fill="#000"><tspan font-weight="bold">CAF01</tspan>: 0.5 mg/ml TDB; 20 µg/ml pre-F</text>
<rect x="416.60" y="280.70" width="25.40" height="11.00" fill="#ff00ff" stroke="#222" stroke-width="1.30"/>
<text x="447.20" y="288.74" font-size="8.35" fill="#000"><tspan font-weight="bold">CAF08 low</tspan>: 0.5 mg/ml TDB; 0.1 mg/ml 3M-052; 20 µg/ml pre-F</text>
<rect x="416.60" y="295.15" width="25.40" height="11.00" fill="#800080" stroke="#222" stroke-width="1.30"/>
<text x="446.10" y="303.10" font-size="8.35" fill="#000"><tspan font-weight="bold">CAF08 high</tspan>: 0.5 mg/ml TDB; 0.5 mg/ml 3M-052; 20 µg/ml pre-F</text>
<rect x="416.60" y="309.60" width="25.40" height="11.00" fill="#ff8600" stroke="#222" stroke-width="1.30"/>
<text x="447.20" y="317.46" font-size="8.35" fill="#000"><tspan font-weight="bold">Addavax</tspan>:  20 µg/ml pre-F in Addavax o.i.w.</text>
<rect x="416.60" y="324.05" width="25.40" height="11.00" fill="#00ffff" stroke="#222" stroke-width="1.30"/>
<text x="446.10" y="331.82" font-size="8.35" fill="#000"><tspan font-weight="bold">post-F+AlOH</tspan>:  20 µg/ml post-F; 200 µg/ml Aluminum hydroxide</text>
</svg>
</body></html>
